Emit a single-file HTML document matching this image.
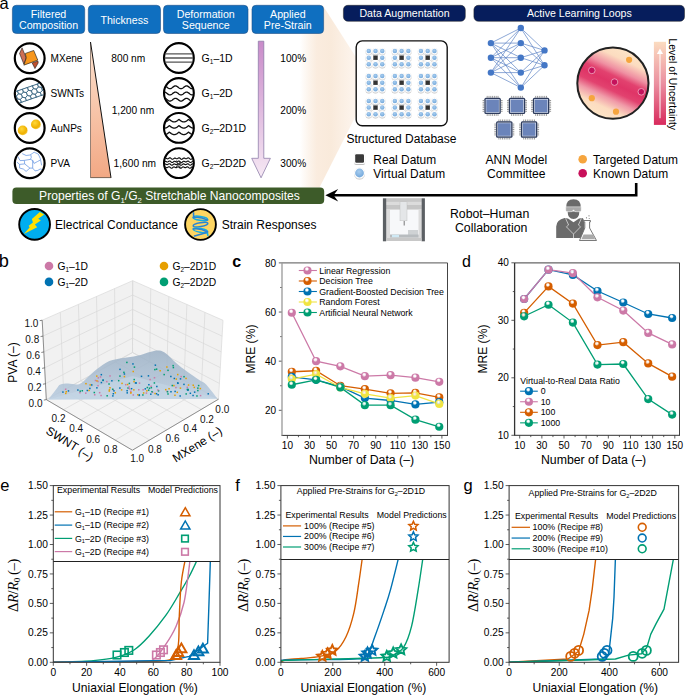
<!DOCTYPE html>
<html><head><meta charset="utf-8"><title>figure</title>
<style>html,body{margin:0;padding:0;background:#fff;width:685px;height:695px;overflow:hidden}svg{display:block}text{font-family:"Liberation Sans",sans-serif}</style></head>
<body><svg width="685" height="695" viewBox="0 0 685 695" font-family='"Liberation Sans", sans-serif'>
<rect width="685" height="695" fill="#fff"/>
<text x="-0.50" y="8.60" font-size="16.5" text-anchor="start" fill="#000" >a</text>
<defs>
<linearGradient id="wedge" x1="300" y1="0" x2="356" y2="0" gradientUnits="userSpaceOnUse">
<stop offset="0" stop-color="#f9e8d7" stop-opacity="0"/><stop offset="0.3" stop-color="#faebdd" stop-opacity="0.95"/><stop offset="0.55" stop-color="#f9eadb"/><stop offset="1" stop-color="#fdf5ee"/></linearGradient>
<linearGradient id="tri" x1="0" y1="42" x2="0" y2="178" gradientUnits="userSpaceOnUse"><stop offset="0" stop-color="#fde2cf"/><stop offset="1" stop-color="#f2a884"/></linearGradient>
<linearGradient id="parr" x1="0" y1="41" x2="0" y2="178" gradientUnits="userSpaceOnUse"><stop offset="0" stop-color="#c98bc9"/><stop offset="1" stop-color="#f6e9f4"/></linearGradient>
<radialGradient id="au" cx="0.4" cy="0.35" r="0.7"><stop offset="0" stop-color="#ffd83a"/><stop offset="0.7" stop-color="#efb000"/><stop offset="1" stop-color="#f6d35a"/></radialGradient>
<linearGradient id="unc" x1="0.71" y1="0.05" x2="0.29" y2="0.95"><stop offset="0" stop-color="#fde4c6"/><stop offset="0.14" stop-color="#fcdcc0"/><stop offset="0.3" stop-color="#ef90a2"/><stop offset="0.4" stop-color="#e2426f"/><stop offset="0.5" stop-color="#df3567"/><stop offset="0.6" stop-color="#e2426f"/><stop offset="0.72" stop-color="#f09aa8"/><stop offset="0.86" stop-color="#fcdcc0"/><stop offset="1" stop-color="#fde4c6"/></linearGradient>
<linearGradient id="ubar" x1="0" y1="41.8" x2="0" y2="125" gradientUnits="userSpaceOnUse"><stop offset="0" stop-color="#fbdcc0"/><stop offset="0.5" stop-color="#eb90a0"/><stop offset="1" stop-color="#d82a5c"/></linearGradient>
<radialGradient id="vdot" cx="0.4" cy="0.35" r="0.65"><stop offset="0" stop-color="#d8ecfa"/><stop offset="1" stop-color="#7fb3e0"/></radialGradient>
</defs>
<polygon points="296,5.8 323,5.8 356.2,57.5 356.2,115 319.5,187.4 296,187.4" fill="url(#wedge)"/>
<rect x="12.4" y="5.3" width="72.3" height="28.2" rx="4" fill="#0f6fc0" stroke="#1c4f86" stroke-width="0.6"/>
<text x="48.55" y="17.60" font-size="10.65" text-anchor="middle" fill="#fff" >Filtered</text>
<text x="48.55" y="29.20" font-size="10.65" text-anchor="middle" fill="#fff" >Composition</text>
<rect x="88.3" y="5.3" width="72.2" height="28.2" rx="4" fill="#0f6fc0" stroke="#1c4f86" stroke-width="0.6"/>
<text x="124.40" y="23.70" font-size="10.65" text-anchor="middle" fill="#fff" >Thickness</text>
<rect x="163.5" y="5.3" width="84.5" height="28.2" rx="4" fill="#0f6fc0" stroke="#1c4f86" stroke-width="0.6"/>
<text x="205.75" y="17.60" font-size="10.65" text-anchor="middle" fill="#fff" >Deformation</text>
<text x="205.75" y="29.20" font-size="10.65" text-anchor="middle" fill="#fff" >Sequence</text>
<rect x="252" y="5.3" width="71.6" height="28.2" rx="4" fill="#0f6fc0" stroke="#1c4f86" stroke-width="0.6"/>
<text x="287.80" y="17.60" font-size="10.65" text-anchor="middle" fill="#fff" >Applied</text>
<text x="287.80" y="29.20" font-size="10.65" text-anchor="middle" fill="#fff" >Pre-Strain</text>
<rect x="343.4" y="5.3" width="121.9" height="16" rx="4.5" fill="#061d5c" stroke="#222" stroke-width="0.5"/>
<text x="404.50" y="17.40" font-size="10.6" text-anchor="middle" fill="#fff" >Data Augmentation</text>
<rect x="473.9" y="5.3" width="210.6" height="16" rx="4.5" fill="#061d5c" stroke="#222" stroke-width="0.5"/>
<text x="579.40" y="17.40" font-size="10.6" text-anchor="middle" fill="#fff" >Active Learning Loops</text>
<circle cx="29.7" cy="58.2" r="14.9" fill="#fff" stroke="#000" stroke-width="2.2"/>
<circle cx="29.7" cy="93.5" r="14.9" fill="#fff" stroke="#000" stroke-width="2.2"/>
<circle cx="29.7" cy="128.0" r="14.9" fill="#fff" stroke="#000" stroke-width="2.2"/>
<circle cx="29.7" cy="163.3" r="14.9" fill="#fff" stroke="#000" stroke-width="2.2"/>
<polygon points="22.05,47.83 19.55,53.48 23.86,64.16 26.28,57.9" fill="#cd6f55" stroke="#111" stroke-width="0.55" stroke-linejoin="round"/>
<polygon points="32.13,62.95 37.98,60.94 38.18,62.95 34.95,68.6" fill="#c0502e" stroke="#111" stroke-width="0.55" stroke-linejoin="round"/>
<polygon points="25.27,53.48 33.74,50.45 37.77,60.13 23.86,65.17 26.28,57.9" fill="#f7961c" stroke="#111" stroke-width="0.6" stroke-linejoin="round"/>
<clipPath id="swc"><circle cx="29.7" cy="93.5" r="14.2"/></clipPath>
<g clip-path="url(#swc)"><g transform="translate(29.4,93.2) rotate(-19)"><clipPath id="tube"><rect x="-20" y="-6.3" width="40" height="12.6"/></clipPath><g clip-path="url(#tube)"><path d="M-23.77,-7.62 L-26.41,-6.10 L-29.06,-7.62 L-29.06,-10.67 L-26.41,-12.20 L-23.77,-10.68Z M-18.49,-7.62 L-21.13,-6.10 L-23.77,-7.62 L-23.77,-10.67 L-21.13,-12.20 L-18.49,-10.68Z M-13.21,-7.62 L-15.85,-6.10 L-18.49,-7.62 L-18.49,-10.67 L-15.85,-12.20 L-13.21,-10.68Z M-7.92,-7.62 L-10.57,-6.10 L-13.21,-7.62 L-13.21,-10.67 L-10.57,-12.20 L-7.92,-10.68Z M-2.64,-7.62 L-5.28,-6.10 L-7.92,-7.62 L-7.92,-10.67 L-5.28,-12.20 L-2.64,-10.68Z M2.64,-7.62 L0.00,-6.10 L-2.64,-7.62 L-2.64,-10.67 L-0.00,-12.20 L2.64,-10.68Z M7.92,-7.62 L5.28,-6.10 L2.64,-7.62 L2.64,-10.67 L5.28,-12.20 L7.92,-10.68Z M13.21,-7.62 L10.57,-6.10 L7.92,-7.62 L7.92,-10.67 L10.57,-12.20 L13.21,-10.68Z M18.49,-7.62 L15.85,-6.10 L13.21,-7.62 L13.21,-10.67 L15.85,-12.20 L18.49,-10.68Z M23.77,-7.62 L21.13,-6.10 L18.49,-7.62 L18.49,-10.67 L21.13,-12.20 L23.77,-10.68Z M29.06,-7.62 L26.41,-6.10 L23.77,-7.62 L23.77,-10.67 L26.41,-12.20 L29.06,-10.68Z M-21.13,-3.05 L-23.77,-1.52 L-26.41,-3.05 L-26.41,-6.10 L-23.77,-7.62 L-21.13,-6.10Z M-15.85,-3.05 L-18.49,-1.52 L-21.13,-3.05 L-21.13,-6.10 L-18.49,-7.62 L-15.85,-6.10Z M-10.57,-3.05 L-13.21,-1.52 L-15.85,-3.05 L-15.85,-6.10 L-13.21,-7.62 L-10.57,-6.10Z M-5.28,-3.05 L-7.92,-1.52 L-10.57,-3.05 L-10.57,-6.10 L-7.92,-7.62 L-5.28,-6.10Z M0.00,-3.05 L-2.64,-1.52 L-5.28,-3.05 L-5.28,-6.10 L-2.64,-7.62 L-0.00,-6.10Z M5.28,-3.05 L2.64,-1.52 L0.00,-3.05 L-0.00,-6.10 L2.64,-7.62 L5.28,-6.10Z M10.57,-3.05 L7.92,-1.52 L5.28,-3.05 L5.28,-6.10 L7.92,-7.62 L10.57,-6.10Z M15.85,-3.05 L13.21,-1.52 L10.57,-3.05 L10.57,-6.10 L13.21,-7.62 L15.85,-6.10Z M21.13,-3.05 L18.49,-1.52 L15.85,-3.05 L15.85,-6.10 L18.49,-7.62 L21.13,-6.10Z M26.41,-3.05 L23.77,-1.52 L21.13,-3.05 L21.13,-6.10 L23.77,-7.62 L26.41,-6.10Z M31.70,-3.05 L29.06,-1.52 L26.41,-3.05 L26.41,-6.10 L29.06,-7.62 L31.70,-6.10Z M-23.77,1.52 L-26.41,3.05 L-29.06,1.53 L-29.06,-1.52 L-26.41,-3.05 L-23.77,-1.53Z M-18.49,1.52 L-21.13,3.05 L-23.77,1.53 L-23.77,-1.52 L-21.13,-3.05 L-18.49,-1.53Z M-13.21,1.52 L-15.85,3.05 L-18.49,1.53 L-18.49,-1.52 L-15.85,-3.05 L-13.21,-1.53Z M-7.92,1.52 L-10.57,3.05 L-13.21,1.53 L-13.21,-1.52 L-10.57,-3.05 L-7.92,-1.53Z M-2.64,1.52 L-5.28,3.05 L-7.92,1.53 L-7.92,-1.52 L-5.28,-3.05 L-2.64,-1.53Z M2.64,1.52 L0.00,3.05 L-2.64,1.53 L-2.64,-1.52 L-0.00,-3.05 L2.64,-1.53Z M7.92,1.52 L5.28,3.05 L2.64,1.53 L2.64,-1.52 L5.28,-3.05 L7.92,-1.53Z M13.21,1.52 L10.57,3.05 L7.92,1.53 L7.92,-1.52 L10.57,-3.05 L13.21,-1.53Z M18.49,1.52 L15.85,3.05 L13.21,1.53 L13.21,-1.52 L15.85,-3.05 L18.49,-1.53Z M23.77,1.52 L21.13,3.05 L18.49,1.53 L18.49,-1.52 L21.13,-3.05 L23.77,-1.53Z M29.06,1.52 L26.41,3.05 L23.77,1.53 L23.77,-1.52 L26.41,-3.05 L29.06,-1.53Z M-21.13,6.10 L-23.77,7.62 L-26.41,6.10 L-26.41,3.05 L-23.77,1.52 L-21.13,3.05Z M-15.85,6.10 L-18.49,7.62 L-21.13,6.10 L-21.13,3.05 L-18.49,1.52 L-15.85,3.05Z M-10.57,6.10 L-13.21,7.62 L-15.85,6.10 L-15.85,3.05 L-13.21,1.52 L-10.57,3.05Z M-5.28,6.10 L-7.92,7.62 L-10.57,6.10 L-10.57,3.05 L-7.92,1.52 L-5.28,3.05Z M0.00,6.10 L-2.64,7.62 L-5.28,6.10 L-5.28,3.05 L-2.64,1.52 L-0.00,3.05Z M5.28,6.10 L2.64,7.62 L0.00,6.10 L-0.00,3.05 L2.64,1.52 L5.28,3.05Z M10.57,6.10 L7.92,7.62 L5.28,6.10 L5.28,3.05 L7.92,1.52 L10.57,3.05Z M15.85,6.10 L13.21,7.62 L10.57,6.10 L10.57,3.05 L13.21,1.52 L15.85,3.05Z M21.13,6.10 L18.49,7.62 L15.85,6.10 L15.85,3.05 L18.49,1.52 L21.13,3.05Z M26.41,6.10 L23.77,7.62 L21.13,6.10 L21.13,3.05 L23.77,1.52 L26.41,3.05Z M31.70,6.10 L29.06,7.62 L26.41,6.10 L26.41,3.05 L29.06,1.52 L31.70,3.05Z M-23.77,10.67 L-26.41,12.20 L-29.06,10.67 L-29.06,7.62 L-26.41,6.10 L-23.77,7.62Z M-18.49,10.67 L-21.13,12.20 L-23.77,10.67 L-23.77,7.62 L-21.13,6.10 L-18.49,7.62Z M-13.21,10.67 L-15.85,12.20 L-18.49,10.67 L-18.49,7.62 L-15.85,6.10 L-13.21,7.62Z M-7.92,10.67 L-10.57,12.20 L-13.21,10.67 L-13.21,7.62 L-10.57,6.10 L-7.92,7.62Z M-2.64,10.67 L-5.28,12.20 L-7.92,10.67 L-7.92,7.62 L-5.28,6.10 L-2.64,7.62Z M2.64,10.67 L0.00,12.20 L-2.64,10.67 L-2.64,7.62 L-0.00,6.10 L2.64,7.62Z M7.92,10.67 L5.28,12.20 L2.64,10.67 L2.64,7.62 L5.28,6.10 L7.92,7.62Z M13.21,10.67 L10.57,12.20 L7.92,10.67 L7.92,7.62 L10.57,6.10 L13.21,7.62Z M18.49,10.67 L15.85,12.20 L13.21,10.67 L13.21,7.62 L15.85,6.10 L18.49,7.62Z M23.77,10.67 L21.13,12.20 L18.49,10.67 L18.49,7.62 L21.13,6.10 L23.77,7.62Z M29.06,10.67 L26.41,12.20 L23.77,10.67 L23.77,7.62 L26.41,6.10 L29.06,7.62Z" fill="none" stroke="#3f6a85" stroke-width="0.7"/></g><line x1="-20" y1="-6.0" x2="20" y2="-6.0" stroke="#3f6a85" stroke-width="1"/><line x1="-20" y1="6.0" x2="20" y2="6.0" stroke="#3f6a85" stroke-width="1"/></g></g>
<circle cx="22.7" cy="130.4" r="4.9" fill="url(#au)"/><circle cx="35.9" cy="124.4" r="4.9" fill="url(#au)"/>
<path d="M22.2,153.6 L26.1,155.5 L29.9,155 L32.2,153.6 L34.1,152.2 L38.3,154.1 L40.2,158.3 L41.1,162.5 L41.6,165.3 M20.1,160.6 L24.3,160.4 L30.4,159.4 L32.7,160.4 L34.1,163.4 L37.4,161.6 L40.2,160.1 M24.3,160.4 L24.7,163.9 L19.6,164.4 L16.8,162 M24.7,163.9 L29.9,168.1 L32.7,168.1 L35,170.9 L37.8,170.4 L40.2,169 L42,169.5 M19.6,164.4 L19.6,168.1 L23.3,169 L26.1,171.4 L29.9,168.1 M32.7,160.4 L32.7,168.1 M17.7,156.4 L20.1,160.6 M30.8,155 L31.3,157.3 L30.4,159.4" fill="none" stroke="#5a8ee0" stroke-width="0.7" stroke-linejoin="round"/>
<text x="50.50" y="61.80" font-size="10.1" text-anchor="start" fill="#000" >MXene</text>
<text x="50.50" y="97.10" font-size="10.1" text-anchor="start" fill="#000" >SWNTs</text>
<text x="50.50" y="131.60" font-size="10.1" text-anchor="start" fill="#000" >AuNPs</text>
<text x="50.50" y="166.90" font-size="10.1" text-anchor="start" fill="#000" >PVA</text>
<polygon points="90.5,42 90.5,177.8 111,177.8" fill="url(#tri)"/>
<line x1="90.5" y1="42" x2="90.5" y2="177.8" stroke="#6a5a50" stroke-width="0.7"/><line x1="90.5" y1="177.6" x2="111" y2="177.6" stroke="#7a6354" stroke-width="1"/><line x1="90.5" y1="42" x2="111" y2="177.8" stroke="#111" stroke-width="1"/>
<text x="111.30" y="61.50" font-size="10.2" text-anchor="start" fill="#000" >800 nm</text>
<text x="111.70" y="113.50" font-size="10.2" text-anchor="start" fill="#000" >1,200 nm</text>
<text x="113.60" y="166.50" font-size="10.2" text-anchor="start" fill="#000" >1,600 nm</text>
<clipPath id="dc0"><circle cx="178.9" cy="58.0" r="14.3"/></clipPath>
<circle cx="178.9" cy="58.0" r="14.9" fill="#fff" stroke="#000" stroke-width="2.1"/>
<clipPath id="dc1"><circle cx="178.9" cy="93.0" r="14.3"/></clipPath>
<circle cx="178.9" cy="93.0" r="14.9" fill="#fff" stroke="#000" stroke-width="2.1"/>
<clipPath id="dc2"><circle cx="178.9" cy="127.9" r="14.3"/></clipPath>
<circle cx="178.9" cy="127.9" r="14.9" fill="#fff" stroke="#000" stroke-width="2.1"/>
<clipPath id="dc3"><circle cx="178.9" cy="163.1" r="14.3"/></clipPath>
<circle cx="178.9" cy="163.1" r="14.9" fill="#fff" stroke="#000" stroke-width="2.1"/>
<line x1="163" y1="53.9" x2="195" y2="53.9" stroke="#555" stroke-width="1.4" clip-path="url(#dc0)"/>
<line x1="163" y1="58.0" x2="195" y2="58.0" stroke="#555" stroke-width="1.4" clip-path="url(#dc0)"/>
<line x1="163" y1="62.1" x2="195" y2="62.1" stroke="#555" stroke-width="1.4" clip-path="url(#dc0)"/>
<polyline points="162.00,86.97 162.40,86.67 162.80,86.41 163.20,86.19 163.60,86.02 164.00,85.93 164.40,85.90 164.80,85.95 165.20,86.06 165.60,86.24 166.00,86.47 166.40,86.74 166.80,87.04 167.20,87.36 167.60,87.67 168.00,87.97 168.40,88.22 168.80,88.44 169.20,88.59 169.60,88.68 170.00,88.70 170.40,88.64 170.80,88.52 171.20,88.34 171.60,88.10 172.00,87.82 172.40,87.52 172.80,87.20 173.20,86.89 173.60,86.60 174.00,86.35 174.40,86.14 174.80,85.99 175.20,85.91 175.60,85.91 176.00,85.97 176.40,86.10 176.80,86.29 177.20,86.53 177.60,86.81 178.00,87.12 178.40,87.44 178.80,87.75 179.20,88.03 179.60,88.28 180.00,88.48 180.40,88.62 180.80,88.69 181.20,88.69 181.60,88.62 182.00,88.48 182.40,88.28 182.80,88.03 183.20,87.75 183.60,87.44 184.00,87.12 184.40,86.81 184.80,86.53 185.20,86.29 185.60,86.10 186.00,85.97 186.40,85.91 186.80,85.91 187.20,85.99 187.60,86.14 188.00,86.35 188.40,86.60 188.80,86.89 189.20,87.20 189.60,87.52 190.00,87.82 190.40,88.10 190.80,88.34 191.20,88.52 191.60,88.64 192.00,88.70 192.40,88.68 192.80,88.59 193.20,88.44 193.60,88.22 194.00,87.97 194.40,87.67 194.80,87.36 195.20,87.04 195.60,86.74" fill="none" stroke="#111" stroke-width="1.35" stroke-linejoin="round" clip-path="url(#dc1)"/>
<polyline points="162.00,93.17 162.40,92.87 162.80,92.61 163.20,92.39 163.60,92.22 164.00,92.13 164.40,92.10 164.80,92.15 165.20,92.26 165.60,92.44 166.00,92.67 166.40,92.94 166.80,93.24 167.20,93.56 167.60,93.87 168.00,94.17 168.40,94.42 168.80,94.64 169.20,94.79 169.60,94.88 170.00,94.90 170.40,94.84 170.80,94.72 171.20,94.54 171.60,94.30 172.00,94.02 172.40,93.72 172.80,93.40 173.20,93.09 173.60,92.80 174.00,92.55 174.40,92.34 174.80,92.19 175.20,92.11 175.60,92.11 176.00,92.17 176.40,92.30 176.80,92.49 177.20,92.73 177.60,93.01 178.00,93.32 178.40,93.64 178.80,93.95 179.20,94.23 179.60,94.48 180.00,94.68 180.40,94.82 180.80,94.89 181.20,94.89 181.60,94.82 182.00,94.68 182.40,94.48 182.80,94.23 183.20,93.95 183.60,93.64 184.00,93.32 184.40,93.01 184.80,92.73 185.20,92.49 185.60,92.30 186.00,92.17 186.40,92.11 186.80,92.11 187.20,92.19 187.60,92.34 188.00,92.55 188.40,92.80 188.80,93.09 189.20,93.40 189.60,93.72 190.00,94.02 190.40,94.30 190.80,94.54 191.20,94.72 191.60,94.84 192.00,94.90 192.40,94.88 192.80,94.79 193.20,94.64 193.60,94.42 194.00,94.17 194.40,93.87 194.80,93.56 195.20,93.24 195.60,92.94" fill="none" stroke="#111" stroke-width="1.35" stroke-linejoin="round" clip-path="url(#dc1)"/>
<polyline points="162.00,99.37 162.40,99.07 162.80,98.81 163.20,98.59 163.60,98.42 164.00,98.33 164.40,98.30 164.80,98.35 165.20,98.46 165.60,98.64 166.00,98.87 166.40,99.14 166.80,99.44 167.20,99.76 167.60,100.07 168.00,100.37 168.40,100.62 168.80,100.84 169.20,100.99 169.60,101.08 170.00,101.10 170.40,101.04 170.80,100.92 171.20,100.74 171.60,100.50 172.00,100.22 172.40,99.92 172.80,99.60 173.20,99.29 173.60,99.00 174.00,98.75 174.40,98.54 174.80,98.39 175.20,98.31 175.60,98.31 176.00,98.37 176.40,98.50 176.80,98.69 177.20,98.93 177.60,99.21 178.00,99.52 178.40,99.84 178.80,100.15 179.20,100.43 179.60,100.68 180.00,100.88 180.40,101.02 180.80,101.09 181.20,101.09 181.60,101.02 182.00,100.88 182.40,100.68 182.80,100.43 183.20,100.15 183.60,99.84 184.00,99.52 184.40,99.21 184.80,98.93 185.20,98.69 185.60,98.50 186.00,98.37 186.40,98.31 186.80,98.31 187.20,98.39 187.60,98.54 188.00,98.75 188.40,99.00 188.80,99.29 189.20,99.60 189.60,99.92 190.00,100.22 190.40,100.50 190.80,100.74 191.20,100.92 191.60,101.04 192.00,101.10 192.40,101.08 192.80,100.99 193.20,100.84 193.60,100.62 194.00,100.37 194.40,100.07 194.80,99.76 195.20,99.44 195.60,99.14" fill="none" stroke="#111" stroke-width="1.35" stroke-linejoin="round" clip-path="url(#dc1)"/>
<polyline points="162.00,121.05 162.30,121.22 162.60,121.38 162.90,121.52 163.20,121.64 163.50,121.74 163.80,121.81 164.10,121.87 164.40,121.89 164.70,121.90 165.00,121.88 165.30,121.83 165.60,121.77 165.90,121.68 166.20,121.57 166.50,121.43 166.80,121.28 167.10,121.11 167.40,120.92 167.70,120.72 168.00,120.51 168.30,120.28 168.60,120.05 168.90,119.81 169.20,119.56 169.50,119.48 169.80,119.73 170.10,119.97 170.40,120.20 170.70,120.43 171.00,120.65 171.30,120.86 171.60,121.05 171.90,121.22 172.20,121.38 172.50,121.52 172.80,121.64 173.10,121.74 173.40,121.81 173.70,121.87 174.00,121.89 174.30,121.90 174.60,121.88 174.90,121.83 175.20,121.77 175.50,121.68 175.80,121.57 176.10,121.43 176.40,121.28 176.70,121.11 177.00,120.92 177.30,120.72 177.60,120.51 177.90,120.28 178.20,120.05 178.50,119.81 178.80,119.56 179.10,119.48 179.40,119.73 179.70,119.97 180.00,120.20 180.30,120.43 180.60,120.65 180.90,120.86 181.20,121.05 181.50,121.22 181.80,121.38 182.10,121.52 182.40,121.64 182.70,121.74 183.00,121.81 183.30,121.87 183.60,121.89 183.90,121.90 184.20,121.88 184.50,121.83 184.80,121.77 185.10,121.68 185.40,121.57 185.70,121.43 186.00,121.28 186.30,121.11 186.60,120.92 186.90,120.72 187.20,120.51 187.50,120.28 187.80,120.05 188.10,119.81 188.40,119.56 188.70,119.48 189.00,119.73 189.30,119.97 189.60,120.20 189.90,120.43 190.20,120.65 190.50,120.86 190.80,121.05 191.10,121.22 191.40,121.38 191.70,121.52 192.00,121.64 192.30,121.74 192.60,121.81 192.90,121.87 193.20,121.89 193.50,121.90 193.80,121.88 194.10,121.83 194.40,121.77 194.70,121.68 195.00,121.57 195.30,121.43 195.60,121.28 195.90,121.11" fill="none" stroke="#111" stroke-width="1.35" stroke-linejoin="round" clip-path="url(#dc2)"/>
<polyline points="162.00,127.25 162.30,127.42 162.60,127.58 162.90,127.72 163.20,127.84 163.50,127.94 163.80,128.01 164.10,128.07 164.40,128.09 164.70,128.10 165.00,128.08 165.30,128.03 165.60,127.97 165.90,127.88 166.20,127.77 166.50,127.63 166.80,127.48 167.10,127.31 167.40,127.12 167.70,126.92 168.00,126.71 168.30,126.48 168.60,126.25 168.90,126.01 169.20,125.76 169.50,125.68 169.80,125.93 170.10,126.17 170.40,126.40 170.70,126.63 171.00,126.85 171.30,127.06 171.60,127.25 171.90,127.42 172.20,127.58 172.50,127.72 172.80,127.84 173.10,127.94 173.40,128.01 173.70,128.07 174.00,128.09 174.30,128.10 174.60,128.08 174.90,128.03 175.20,127.97 175.50,127.88 175.80,127.77 176.10,127.63 176.40,127.48 176.70,127.31 177.00,127.12 177.30,126.92 177.60,126.71 177.90,126.48 178.20,126.25 178.50,126.01 178.80,125.76 179.10,125.68 179.40,125.93 179.70,126.17 180.00,126.40 180.30,126.63 180.60,126.85 180.90,127.06 181.20,127.25 181.50,127.42 181.80,127.58 182.10,127.72 182.40,127.84 182.70,127.94 183.00,128.01 183.30,128.07 183.60,128.09 183.90,128.10 184.20,128.08 184.50,128.03 184.80,127.97 185.10,127.88 185.40,127.77 185.70,127.63 186.00,127.48 186.30,127.31 186.60,127.12 186.90,126.92 187.20,126.71 187.50,126.48 187.80,126.25 188.10,126.01 188.40,125.76 188.70,125.68 189.00,125.93 189.30,126.17 189.60,126.40 189.90,126.63 190.20,126.85 190.50,127.06 190.80,127.25 191.10,127.42 191.40,127.58 191.70,127.72 192.00,127.84 192.30,127.94 192.60,128.01 192.90,128.07 193.20,128.09 193.50,128.10 193.80,128.08 194.10,128.03 194.40,127.97 194.70,127.88 195.00,127.77 195.30,127.63 195.60,127.48 195.90,127.31" fill="none" stroke="#111" stroke-width="1.35" stroke-linejoin="round" clip-path="url(#dc2)"/>
<polyline points="162.00,133.75 162.30,133.92 162.60,134.08 162.90,134.22 163.20,134.34 163.50,134.44 163.80,134.51 164.10,134.57 164.40,134.59 164.70,134.60 165.00,134.58 165.30,134.53 165.60,134.47 165.90,134.38 166.20,134.27 166.50,134.13 166.80,133.98 167.10,133.81 167.40,133.62 167.70,133.42 168.00,133.21 168.30,132.98 168.60,132.75 168.90,132.51 169.20,132.26 169.50,132.18 169.80,132.43 170.10,132.67 170.40,132.90 170.70,133.13 171.00,133.35 171.30,133.56 171.60,133.75 171.90,133.92 172.20,134.08 172.50,134.22 172.80,134.34 173.10,134.44 173.40,134.51 173.70,134.57 174.00,134.59 174.30,134.60 174.60,134.58 174.90,134.53 175.20,134.47 175.50,134.38 175.80,134.27 176.10,134.13 176.40,133.98 176.70,133.81 177.00,133.62 177.30,133.42 177.60,133.21 177.90,132.98 178.20,132.75 178.50,132.51 178.80,132.26 179.10,132.18 179.40,132.43 179.70,132.67 180.00,132.90 180.30,133.13 180.60,133.35 180.90,133.56 181.20,133.75 181.50,133.92 181.80,134.08 182.10,134.22 182.40,134.34 182.70,134.44 183.00,134.51 183.30,134.57 183.60,134.59 183.90,134.60 184.20,134.58 184.50,134.53 184.80,134.47 185.10,134.38 185.40,134.27 185.70,134.13 186.00,133.98 186.30,133.81 186.60,133.62 186.90,133.42 187.20,133.21 187.50,132.98 187.80,132.75 188.10,132.51 188.40,132.26 188.70,132.18 189.00,132.43 189.30,132.67 189.60,132.90 189.90,133.13 190.20,133.35 190.50,133.56 190.80,133.75 191.10,133.92 191.40,134.08 191.70,134.22 192.00,134.34 192.30,134.44 192.60,134.51 192.90,134.57 193.20,134.59 193.50,134.60 193.80,134.58 194.10,134.53 194.40,134.47 194.70,134.38 195.00,134.27 195.30,134.13 195.60,133.98 195.90,133.81" fill="none" stroke="#111" stroke-width="1.35" stroke-linejoin="round" clip-path="url(#dc2)"/>
<polyline points="162.00,158.50 162.30,158.78 162.60,159.02 162.90,159.19 163.20,159.27 163.50,159.25 163.80,159.13 164.10,158.95 164.40,158.72 164.70,158.50 165.00,158.31 165.30,158.18 165.60,158.14 165.90,158.17 166.20,158.27 166.50,158.42 166.80,158.58 167.10,158.72 167.40,158.81 167.70,158.82 168.00,158.76 168.30,158.62 168.60,158.42 168.90,158.20 169.20,158.00 169.50,157.84 169.80,157.76 170.10,157.78 170.40,157.89 170.70,158.10 171.00,158.36 171.30,158.64 171.60,158.91 171.90,159.13 172.20,159.27 172.50,159.30 172.80,159.24 173.10,159.08 173.40,158.87 173.70,158.63 174.00,158.41 174.30,158.23 174.60,158.12 174.90,158.10 175.20,158.15 175.50,158.27 175.80,158.43 176.10,158.59 176.40,158.72 176.70,158.79 177.00,158.78 177.30,158.70 177.60,158.55 177.90,158.35 178.20,158.14 178.50,157.96 178.80,157.83 179.10,157.79 179.40,157.85 179.70,158.00 180.00,158.22 180.30,158.50 180.60,158.78 180.90,159.03 181.20,159.22 181.50,159.31 181.80,159.31 182.10,159.20 182.40,159.02 182.70,158.78 183.00,158.53 183.30,158.31 183.60,158.15 183.90,158.06 184.20,158.06 184.50,158.14 184.80,158.28 185.10,158.44 185.40,158.60 185.70,158.72 186.00,158.77 186.30,158.75 186.60,158.65 186.90,158.49 187.20,158.29 187.50,158.10 187.80,157.94 188.10,157.85 188.40,157.84 188.70,157.93 189.00,158.11 189.30,158.36 189.60,158.64 189.90,158.91 190.20,159.14 190.50,159.29 190.80,159.34 191.10,159.29 191.40,159.14 191.70,158.93 192.00,158.68 192.30,158.43 192.60,158.21 192.90,158.07 193.20,158.01 193.50,158.03 193.80,158.13 194.10,158.29 194.40,158.46 194.70,158.61 195.00,158.72 195.30,158.76 195.60,158.72 195.90,158.61" fill="none" stroke="#111" stroke-width="1.15" stroke-linejoin="round" clip-path="url(#dc3)"/>
<polyline points="162.00,162.00 162.30,162.24 162.60,162.41 162.90,162.49 163.20,162.46 163.50,162.34 163.80,162.15 164.10,161.92 164.40,161.69 164.70,161.50 165.00,161.37 165.30,161.31 165.60,161.34 165.90,161.44 166.20,161.59 166.50,161.75 166.80,161.89 167.10,161.99 167.40,162.01 167.70,161.95 168.00,161.81 168.30,161.62 168.60,161.41 168.90,161.21 169.20,161.06 169.50,160.98 169.80,161.00 170.10,161.12 170.40,161.32 170.70,161.58 171.00,161.86 171.30,162.13 171.60,162.35 171.90,162.48 172.20,162.51 172.50,162.45 172.80,162.29 173.10,162.07 173.40,161.83 173.70,161.60 174.00,161.41 174.30,161.30 174.60,161.27 174.90,161.32 175.20,161.44 175.50,161.60 175.80,161.76 176.10,161.89 176.40,161.97 176.70,161.97 177.00,161.90 177.30,161.75 177.60,161.56 177.90,161.36 178.20,161.18 178.50,161.06 178.80,161.02 179.10,161.07 179.40,161.22 179.70,161.45 180.00,161.72 180.30,162.00 180.60,162.25 180.90,162.43 181.20,162.52 181.50,162.51 181.80,162.41 182.10,162.22 182.40,161.98 182.70,161.72 183.00,161.50 183.30,161.33 183.60,161.24 183.90,161.23 184.20,161.31 184.50,161.45 184.80,161.61 185.10,161.77 185.40,161.90 185.70,161.96 186.00,161.94 186.30,161.85 186.60,161.70 186.90,161.51 187.20,161.32 187.50,161.16 187.80,161.07 188.10,161.07 188.40,161.16 188.70,161.34 189.00,161.58 189.30,161.85 189.60,162.12 189.90,162.35 190.20,162.49 190.50,162.54 190.80,162.49 191.10,162.34 191.40,162.12 191.70,161.87 192.00,161.61 192.30,161.39 192.60,161.24 192.90,161.18 193.20,161.20 193.50,161.30 193.80,161.46 194.10,161.63 194.40,161.79 194.70,161.91 195.00,161.95 195.30,161.92 195.60,161.82 195.90,161.66" fill="none" stroke="#111" stroke-width="1.15" stroke-linejoin="round" clip-path="url(#dc3)"/>
<polyline points="162.00,164.96 162.30,165.13 162.60,165.20 162.90,165.18 163.20,165.05 163.50,164.86 163.80,164.62 164.10,164.39 164.40,164.18 164.70,164.05 165.00,163.99 165.30,164.01 165.60,164.11 165.90,164.26 166.20,164.42 166.50,164.57 166.80,164.66 167.10,164.69 167.40,164.64 167.70,164.51 168.00,164.33 168.30,164.12 168.60,163.93 168.90,163.78 169.20,163.71 169.50,163.72 169.80,163.84 170.10,164.04 170.40,164.30 170.70,164.58 171.00,164.85 171.30,165.06 171.60,165.19 171.90,165.22 172.20,165.15 172.50,164.99 172.80,164.77 173.10,164.52 173.40,164.29 173.70,164.09 174.00,163.98 174.30,163.94 174.60,163.99 174.90,164.11 175.20,164.27 175.50,164.43 175.80,164.57 176.10,164.66 176.40,164.66 176.70,164.59 177.00,164.46 177.30,164.27 177.60,164.08 177.90,163.90 178.20,163.78 178.50,163.74 178.80,163.80 179.10,163.95 179.40,164.17 179.70,164.44 180.00,164.72 180.30,164.96 180.60,165.14 180.90,165.23 181.20,165.22 181.50,165.11 181.80,164.91 182.10,164.67 182.40,164.41 182.70,164.18 183.00,164.00 183.30,163.91 183.60,163.90 183.90,163.98 184.20,164.12 184.50,164.28 184.80,164.45 185.10,164.58 185.40,164.65 185.70,164.64 186.00,164.56 186.30,164.41 186.60,164.23 186.90,164.04 187.20,163.89 187.50,163.80 187.80,163.80 188.10,163.88 188.40,164.06 188.70,164.30 189.00,164.57 189.30,164.84 189.60,165.06 189.90,165.20 190.20,165.25 190.50,165.19 190.80,165.04 191.10,164.81 191.40,164.55 191.70,164.29 192.00,164.07 192.30,163.92 192.60,163.85 192.90,163.87 193.20,163.97 193.50,164.13 193.80,164.31 194.10,164.47 194.40,164.60 194.70,164.65 195.00,164.62 195.30,164.53 195.60,164.37 195.90,164.19" fill="none" stroke="#111" stroke-width="1.15" stroke-linejoin="round" clip-path="url(#dc3)"/>
<polyline points="162.00,168.15 162.30,168.22 162.60,168.19 162.90,168.06 163.20,167.86 163.50,167.62 163.80,167.38 164.10,167.17 164.40,167.02 164.70,166.96 165.00,166.98 165.30,167.08 165.60,167.23 165.90,167.39 166.20,167.54 166.50,167.64 166.80,167.68 167.10,167.63 167.40,167.51 167.70,167.34 168.00,167.14 168.30,166.95 168.60,166.80 168.90,166.73 169.20,166.75 169.50,166.86 169.80,167.06 170.10,167.32 170.40,167.60 170.70,167.87 171.00,168.08 171.30,168.21 171.60,168.23 171.90,168.16 172.20,167.99 172.50,167.77 172.80,167.51 173.10,167.27 173.40,167.07 173.70,166.95 174.00,166.91 174.30,166.96 174.60,167.08 174.90,167.24 175.20,167.41 175.50,167.55 175.80,167.64 176.10,167.66 176.40,167.60 176.70,167.47 177.00,167.29 177.30,167.10 177.60,166.92 177.90,166.81 178.20,166.77 178.50,166.82 178.80,166.97 179.10,167.19 179.40,167.46 179.70,167.73 180.00,167.98 180.30,168.15 180.60,168.24 180.90,168.22 181.20,168.11 181.50,167.91 181.80,167.66 182.10,167.40 182.40,167.16 182.70,166.98 183.00,166.88 183.30,166.87 183.60,166.95 183.90,167.09 184.20,167.26 184.50,167.43 184.80,167.57 185.10,167.64 185.40,167.64 185.70,167.57 186.00,167.43 186.30,167.25 186.60,167.07 186.90,166.92 187.20,166.83 187.50,166.82 187.80,166.91 188.10,167.08 188.40,167.32 188.70,167.59 189.00,167.85 189.30,168.07 189.60,168.21 189.90,168.25 190.20,168.19 190.50,168.03 190.80,167.80 191.10,167.54 191.40,167.27 191.70,167.05 192.00,166.89 192.30,166.82 192.60,166.84 192.90,166.95 193.20,167.10 193.50,167.29 193.80,167.46 194.10,167.59 194.40,167.65 194.70,167.63 195.00,167.54 195.30,167.39 195.60,167.22 195.90,167.05" fill="none" stroke="#111" stroke-width="1.15" stroke-linejoin="round" clip-path="url(#dc3)"/>
<path d="M176.5,160.5 L177.8,164.8 L176.2,167 M180.3,161.5 L178.4,165.2 L181.2,167.8 M182,162.5 L179.6,164.2" fill="none" stroke="#222" stroke-width="0.8"/>
<text x="201.60" y="61.90" font-size="10.5" text-anchor="start" fill="#000" >G<tspan font-size="6.51" dy="2.31">1</tspan><tspan dy="-2.31">–1D</tspan></text>
<text x="201.60" y="96.90" font-size="10.5" text-anchor="start" fill="#000" >G<tspan font-size="6.51" dy="2.31">1</tspan><tspan dy="-2.31">–2D</tspan></text>
<text x="201.60" y="131.80" font-size="10.5" text-anchor="start" fill="#000" >G<tspan font-size="6.51" dy="2.31">2</tspan><tspan dy="-2.31">–2D1D</tspan></text>
<text x="201.60" y="167.00" font-size="10.5" text-anchor="start" fill="#000" >G<tspan font-size="6.51" dy="2.31">2</tspan><tspan dy="-2.31">–2D2D</tspan></text>
<path d="M258.3,41.2 L263.8,41.2 L263.8,158.3 L270.4,158.3 L261.05,177.8 L251.7,158.3 L258.3,158.3 Z" fill="url(#parr)" stroke="#8a7aa6" stroke-width="0.75"/>
<text x="280.30" y="61.70" font-size="10.1" text-anchor="start" fill="#000" >100%</text>
<text x="280.30" y="113.70" font-size="10.1" text-anchor="start" fill="#000" >200%</text>
<text x="280.30" y="166.50" font-size="10.1" text-anchor="start" fill="#000" >300%</text>
<defs><filter id="sh" x="-50%" y="-50%" width="200%" height="200%"><feDropShadow dx="0" dy="0.5" stdDeviation="0.7" flood-color="#000" flood-opacity="0.5"/></filter><radialGradient id="bdot" cx="0.45" cy="0.35" r="0.7"><stop offset="0" stop-color="#a8cdef"/><stop offset="1" stop-color="#6fa5d9"/></radialGradient></defs>
<rect x="356.2" y="40.9" width="91" height="84.8" rx="6" fill="#fff" stroke="#111" stroke-width="1.4"/>
<path d="M368.7,50.900000000000006 L382.3,64.5 M382.3,50.900000000000006 L368.7,64.5" stroke="#cfcfcf" stroke-width="0.6"/>
<g filter="url(#sh)"><circle cx="368.75" cy="51.10" r="3.2" fill="#fff"/><circle cx="368.75" cy="57.70" r="3.2" fill="#fff"/><circle cx="368.75" cy="64.30" r="3.2" fill="#fff"/><circle cx="375.50" cy="51.10" r="3.2" fill="#fff"/><circle cx="375.50" cy="64.30" r="3.2" fill="#fff"/><circle cx="382.25" cy="51.10" r="3.2" fill="#fff"/><circle cx="382.25" cy="57.70" r="3.2" fill="#fff"/><circle cx="382.25" cy="64.30" r="3.2" fill="#fff"/></g>
<circle cx="368.75" cy="51.10" r="2.25" fill="url(#bdot)"/>
<circle cx="368.75" cy="57.70" r="2.25" fill="url(#bdot)"/>
<circle cx="368.75" cy="64.30" r="2.25" fill="url(#bdot)"/>
<circle cx="375.50" cy="51.10" r="2.25" fill="url(#bdot)"/>
<circle cx="375.50" cy="64.30" r="2.25" fill="url(#bdot)"/>
<circle cx="382.25" cy="51.10" r="2.25" fill="url(#bdot)"/>
<circle cx="382.25" cy="57.70" r="2.25" fill="url(#bdot)"/>
<circle cx="382.25" cy="64.30" r="2.25" fill="url(#bdot)"/>
<rect x="373.30" y="55.50" width="4.4" height="4.4" fill="#333"/>
<path d="M368.7,75.9 L382.3,89.5 M382.3,75.9 L368.7,89.5" stroke="#cfcfcf" stroke-width="0.6"/>
<g filter="url(#sh)"><circle cx="368.75" cy="76.10" r="3.2" fill="#fff"/><circle cx="368.75" cy="82.70" r="3.2" fill="#fff"/><circle cx="368.75" cy="89.30" r="3.2" fill="#fff"/><circle cx="375.50" cy="76.10" r="3.2" fill="#fff"/><circle cx="375.50" cy="89.30" r="3.2" fill="#fff"/><circle cx="382.25" cy="76.10" r="3.2" fill="#fff"/><circle cx="382.25" cy="82.70" r="3.2" fill="#fff"/><circle cx="382.25" cy="89.30" r="3.2" fill="#fff"/></g>
<circle cx="368.75" cy="76.10" r="2.25" fill="url(#bdot)"/>
<circle cx="368.75" cy="82.70" r="2.25" fill="url(#bdot)"/>
<circle cx="368.75" cy="89.30" r="2.25" fill="url(#bdot)"/>
<circle cx="375.50" cy="76.10" r="2.25" fill="url(#bdot)"/>
<circle cx="375.50" cy="89.30" r="2.25" fill="url(#bdot)"/>
<circle cx="382.25" cy="76.10" r="2.25" fill="url(#bdot)"/>
<circle cx="382.25" cy="82.70" r="2.25" fill="url(#bdot)"/>
<circle cx="382.25" cy="89.30" r="2.25" fill="url(#bdot)"/>
<rect x="373.30" y="80.50" width="4.4" height="4.4" fill="#333"/>
<path d="M368.7,100.8 L382.3,114.39999999999999 M382.3,100.8 L368.7,114.39999999999999" stroke="#cfcfcf" stroke-width="0.6"/>
<g filter="url(#sh)"><circle cx="368.75" cy="101.00" r="3.2" fill="#fff"/><circle cx="368.75" cy="107.60" r="3.2" fill="#fff"/><circle cx="368.75" cy="114.20" r="3.2" fill="#fff"/><circle cx="375.50" cy="101.00" r="3.2" fill="#fff"/><circle cx="375.50" cy="114.20" r="3.2" fill="#fff"/><circle cx="382.25" cy="101.00" r="3.2" fill="#fff"/><circle cx="382.25" cy="107.60" r="3.2" fill="#fff"/><circle cx="382.25" cy="114.20" r="3.2" fill="#fff"/></g>
<circle cx="368.75" cy="101.00" r="2.25" fill="url(#bdot)"/>
<circle cx="368.75" cy="107.60" r="2.25" fill="url(#bdot)"/>
<circle cx="368.75" cy="114.20" r="2.25" fill="url(#bdot)"/>
<circle cx="375.50" cy="101.00" r="2.25" fill="url(#bdot)"/>
<circle cx="375.50" cy="114.20" r="2.25" fill="url(#bdot)"/>
<circle cx="382.25" cy="101.00" r="2.25" fill="url(#bdot)"/>
<circle cx="382.25" cy="107.60" r="2.25" fill="url(#bdot)"/>
<circle cx="382.25" cy="114.20" r="2.25" fill="url(#bdot)"/>
<rect x="373.30" y="105.40" width="4.4" height="4.4" fill="#333"/>
<path d="M394.8,50.900000000000006 L408.40000000000003,64.5 M408.40000000000003,50.900000000000006 L394.8,64.5" stroke="#cfcfcf" stroke-width="0.6"/>
<g filter="url(#sh)"><circle cx="394.85" cy="51.10" r="3.2" fill="#fff"/><circle cx="394.85" cy="57.70" r="3.2" fill="#fff"/><circle cx="394.85" cy="64.30" r="3.2" fill="#fff"/><circle cx="401.60" cy="51.10" r="3.2" fill="#fff"/><circle cx="401.60" cy="64.30" r="3.2" fill="#fff"/><circle cx="408.35" cy="51.10" r="3.2" fill="#fff"/><circle cx="408.35" cy="57.70" r="3.2" fill="#fff"/><circle cx="408.35" cy="64.30" r="3.2" fill="#fff"/></g>
<circle cx="394.85" cy="51.10" r="2.25" fill="url(#bdot)"/>
<circle cx="394.85" cy="57.70" r="2.25" fill="url(#bdot)"/>
<circle cx="394.85" cy="64.30" r="2.25" fill="url(#bdot)"/>
<circle cx="401.60" cy="51.10" r="2.25" fill="url(#bdot)"/>
<circle cx="401.60" cy="64.30" r="2.25" fill="url(#bdot)"/>
<circle cx="408.35" cy="51.10" r="2.25" fill="url(#bdot)"/>
<circle cx="408.35" cy="57.70" r="2.25" fill="url(#bdot)"/>
<circle cx="408.35" cy="64.30" r="2.25" fill="url(#bdot)"/>
<rect x="399.40" y="55.50" width="4.4" height="4.4" fill="#333"/>
<path d="M394.8,75.9 L408.40000000000003,89.5 M408.40000000000003,75.9 L394.8,89.5" stroke="#cfcfcf" stroke-width="0.6"/>
<g filter="url(#sh)"><circle cx="394.85" cy="76.10" r="3.2" fill="#fff"/><circle cx="394.85" cy="82.70" r="3.2" fill="#fff"/><circle cx="394.85" cy="89.30" r="3.2" fill="#fff"/><circle cx="401.60" cy="76.10" r="3.2" fill="#fff"/><circle cx="401.60" cy="89.30" r="3.2" fill="#fff"/><circle cx="408.35" cy="76.10" r="3.2" fill="#fff"/><circle cx="408.35" cy="82.70" r="3.2" fill="#fff"/><circle cx="408.35" cy="89.30" r="3.2" fill="#fff"/></g>
<circle cx="394.85" cy="76.10" r="2.25" fill="url(#bdot)"/>
<circle cx="394.85" cy="82.70" r="2.25" fill="url(#bdot)"/>
<circle cx="394.85" cy="89.30" r="2.25" fill="url(#bdot)"/>
<circle cx="401.60" cy="76.10" r="2.25" fill="url(#bdot)"/>
<circle cx="401.60" cy="89.30" r="2.25" fill="url(#bdot)"/>
<circle cx="408.35" cy="76.10" r="2.25" fill="url(#bdot)"/>
<circle cx="408.35" cy="82.70" r="2.25" fill="url(#bdot)"/>
<circle cx="408.35" cy="89.30" r="2.25" fill="url(#bdot)"/>
<rect x="399.40" y="80.50" width="4.4" height="4.4" fill="#333"/>
<path d="M394.8,100.8 L408.40000000000003,114.39999999999999 M408.40000000000003,100.8 L394.8,114.39999999999999" stroke="#cfcfcf" stroke-width="0.6"/>
<g filter="url(#sh)"><circle cx="394.85" cy="101.00" r="3.2" fill="#fff"/><circle cx="394.85" cy="107.60" r="3.2" fill="#fff"/><circle cx="394.85" cy="114.20" r="3.2" fill="#fff"/><circle cx="401.60" cy="101.00" r="3.2" fill="#fff"/><circle cx="401.60" cy="114.20" r="3.2" fill="#fff"/><circle cx="408.35" cy="101.00" r="3.2" fill="#fff"/><circle cx="408.35" cy="107.60" r="3.2" fill="#fff"/><circle cx="408.35" cy="114.20" r="3.2" fill="#fff"/></g>
<circle cx="394.85" cy="101.00" r="2.25" fill="url(#bdot)"/>
<circle cx="394.85" cy="107.60" r="2.25" fill="url(#bdot)"/>
<circle cx="394.85" cy="114.20" r="2.25" fill="url(#bdot)"/>
<circle cx="401.60" cy="101.00" r="2.25" fill="url(#bdot)"/>
<circle cx="401.60" cy="114.20" r="2.25" fill="url(#bdot)"/>
<circle cx="408.35" cy="101.00" r="2.25" fill="url(#bdot)"/>
<circle cx="408.35" cy="107.60" r="2.25" fill="url(#bdot)"/>
<circle cx="408.35" cy="114.20" r="2.25" fill="url(#bdot)"/>
<rect x="399.40" y="105.40" width="4.4" height="4.4" fill="#333"/>
<path d="M420.9,50.900000000000006 L434.5,64.5 M434.5,50.900000000000006 L420.9,64.5" stroke="#cfcfcf" stroke-width="0.6"/>
<g filter="url(#sh)"><circle cx="420.95" cy="51.10" r="3.2" fill="#fff"/><circle cx="420.95" cy="57.70" r="3.2" fill="#fff"/><circle cx="420.95" cy="64.30" r="3.2" fill="#fff"/><circle cx="427.70" cy="51.10" r="3.2" fill="#fff"/><circle cx="427.70" cy="64.30" r="3.2" fill="#fff"/><circle cx="434.45" cy="51.10" r="3.2" fill="#fff"/><circle cx="434.45" cy="57.70" r="3.2" fill="#fff"/><circle cx="434.45" cy="64.30" r="3.2" fill="#fff"/></g>
<circle cx="420.95" cy="51.10" r="2.25" fill="url(#bdot)"/>
<circle cx="420.95" cy="57.70" r="2.25" fill="url(#bdot)"/>
<circle cx="420.95" cy="64.30" r="2.25" fill="url(#bdot)"/>
<circle cx="427.70" cy="51.10" r="2.25" fill="url(#bdot)"/>
<circle cx="427.70" cy="64.30" r="2.25" fill="url(#bdot)"/>
<circle cx="434.45" cy="51.10" r="2.25" fill="url(#bdot)"/>
<circle cx="434.45" cy="57.70" r="2.25" fill="url(#bdot)"/>
<circle cx="434.45" cy="64.30" r="2.25" fill="url(#bdot)"/>
<rect x="425.50" y="55.50" width="4.4" height="4.4" fill="#333"/>
<path d="M420.9,75.9 L434.5,89.5 M434.5,75.9 L420.9,89.5" stroke="#cfcfcf" stroke-width="0.6"/>
<g filter="url(#sh)"><circle cx="420.95" cy="76.10" r="3.2" fill="#fff"/><circle cx="420.95" cy="82.70" r="3.2" fill="#fff"/><circle cx="420.95" cy="89.30" r="3.2" fill="#fff"/><circle cx="427.70" cy="76.10" r="3.2" fill="#fff"/><circle cx="427.70" cy="89.30" r="3.2" fill="#fff"/><circle cx="434.45" cy="76.10" r="3.2" fill="#fff"/><circle cx="434.45" cy="82.70" r="3.2" fill="#fff"/><circle cx="434.45" cy="89.30" r="3.2" fill="#fff"/></g>
<circle cx="420.95" cy="76.10" r="2.25" fill="url(#bdot)"/>
<circle cx="420.95" cy="82.70" r="2.25" fill="url(#bdot)"/>
<circle cx="420.95" cy="89.30" r="2.25" fill="url(#bdot)"/>
<circle cx="427.70" cy="76.10" r="2.25" fill="url(#bdot)"/>
<circle cx="427.70" cy="89.30" r="2.25" fill="url(#bdot)"/>
<circle cx="434.45" cy="76.10" r="2.25" fill="url(#bdot)"/>
<circle cx="434.45" cy="82.70" r="2.25" fill="url(#bdot)"/>
<circle cx="434.45" cy="89.30" r="2.25" fill="url(#bdot)"/>
<rect x="425.50" y="80.50" width="4.4" height="4.4" fill="#333"/>
<path d="M420.9,100.8 L434.5,114.39999999999999 M434.5,100.8 L420.9,114.39999999999999" stroke="#cfcfcf" stroke-width="0.6"/>
<g filter="url(#sh)"><circle cx="420.95" cy="101.00" r="3.2" fill="#fff"/><circle cx="420.95" cy="107.60" r="3.2" fill="#fff"/><circle cx="420.95" cy="114.20" r="3.2" fill="#fff"/><circle cx="427.70" cy="101.00" r="3.2" fill="#fff"/><circle cx="427.70" cy="114.20" r="3.2" fill="#fff"/><circle cx="434.45" cy="101.00" r="3.2" fill="#fff"/><circle cx="434.45" cy="107.60" r="3.2" fill="#fff"/><circle cx="434.45" cy="114.20" r="3.2" fill="#fff"/></g>
<circle cx="420.95" cy="101.00" r="2.25" fill="url(#bdot)"/>
<circle cx="420.95" cy="107.60" r="2.25" fill="url(#bdot)"/>
<circle cx="420.95" cy="114.20" r="2.25" fill="url(#bdot)"/>
<circle cx="427.70" cy="101.00" r="2.25" fill="url(#bdot)"/>
<circle cx="427.70" cy="114.20" r="2.25" fill="url(#bdot)"/>
<circle cx="434.45" cy="101.00" r="2.25" fill="url(#bdot)"/>
<circle cx="434.45" cy="107.60" r="2.25" fill="url(#bdot)"/>
<circle cx="434.45" cy="114.20" r="2.25" fill="url(#bdot)"/>
<rect x="425.50" y="105.40" width="4.4" height="4.4" fill="#333"/>
<text x="346.40" y="142.80" font-size="12" text-anchor="start" fill="#000" >Structured Database</text>
<g filter="url(#sh)"><rect x="354.1" y="153.1" width="11" height="10.8" rx="2" fill="#fff"/><circle cx="359.5" cy="173" r="5.5" fill="#fff"/></g>
<rect x="355.2" y="154.2" width="8.8" height="8.6" rx="1.2" fill="#3a3a3a"/>
<circle cx="359.5" cy="173" r="4.4" fill="url(#bdot)"/>
<text x="373.30" y="163.50" font-size="11.9" text-anchor="start" fill="#000" >Real Datum</text>
<text x="373.30" y="178.20" font-size="11.9" text-anchor="start" fill="#000" >Virtual Datum</text>
<path d="M490.9,43.1 L520.8,28 M490.9,43.1 L520.8,43.1 M490.9,43.1 L520.8,57.7 M490.9,43.1 L520.8,72.6 M490.9,43.1 L520.8,87.6 M490.9,57.7 L520.8,28 M490.9,57.7 L520.8,43.1 M490.9,57.7 L520.8,57.7 M490.9,57.7 L520.8,72.6 M490.9,57.7 L520.8,87.6 M490.9,72.6 L520.8,28 M490.9,72.6 L520.8,43.1 M490.9,72.6 L520.8,57.7 M490.9,72.6 L520.8,72.6 M490.9,72.6 L520.8,87.6 M520.8,28 L544.5,50.4 M520.8,28 L544.5,65.3 M520.8,43.1 L544.5,50.4 M520.8,43.1 L544.5,65.3 M520.8,57.7 L544.5,50.4 M520.8,57.7 L544.5,65.3 M520.8,72.6 L544.5,50.4 M520.8,72.6 L544.5,65.3 M520.8,87.6 L544.5,50.4 M520.8,87.6 L544.5,65.3" stroke="#5b82c4" stroke-width="0.7" fill="none"/>
<circle cx="490.9" cy="43.1" r="3.2" fill="#4477c6"/>
<circle cx="490.9" cy="57.7" r="3.2" fill="#4477c6"/>
<circle cx="490.9" cy="72.6" r="3.2" fill="#4477c6"/>
<circle cx="520.8" cy="28" r="3.2" fill="#4477c6"/>
<circle cx="520.8" cy="43.1" r="3.2" fill="#4477c6"/>
<circle cx="520.8" cy="57.7" r="3.2" fill="#4477c6"/>
<circle cx="520.8" cy="72.6" r="3.2" fill="#4477c6"/>
<circle cx="520.8" cy="87.6" r="3.2" fill="#4477c6"/>
<circle cx="544.5" cy="50.4" r="3.2" fill="#4477c6"/>
<circle cx="544.5" cy="65.3" r="3.2" fill="#4477c6"/>
<path d="M487.20000000000005,95.9 L487.20000000000005,97.7 M487.20000000000005,114.10000000000001 L487.20000000000005,115.9 M482.6,100.5 L484.40000000000003,100.5 M500.8,100.5 L502.6,100.5 M489.0,95.9 L489.0,97.7 M489.0,114.10000000000001 L489.0,115.9 M482.6,102.30000000000001 L484.40000000000003,102.30000000000001 M500.8,102.30000000000001 L502.6,102.30000000000001 M490.8,95.9 L490.8,97.7 M490.8,114.10000000000001 L490.8,115.9 M482.6,104.10000000000001 L484.40000000000003,104.10000000000001 M500.8,104.10000000000001 L502.6,104.10000000000001 M492.6,95.9 L492.6,97.7 M492.6,114.10000000000001 L492.6,115.9 M482.6,105.9 L484.40000000000003,105.9 M500.8,105.9 L502.6,105.9 M494.40000000000003,95.9 L494.40000000000003,97.7 M494.40000000000003,114.10000000000001 L494.40000000000003,115.9 M482.6,107.7 L484.40000000000003,107.7 M500.8,107.7 L502.6,107.7 M496.20000000000005,95.9 L496.20000000000005,97.7 M496.20000000000005,114.10000000000001 L496.20000000000005,115.9 M482.6,109.5 L484.40000000000003,109.5 M500.8,109.5 L502.6,109.5 M498.0,95.9 L498.0,97.7 M498.0,114.10000000000001 L498.0,115.9 M482.6,111.30000000000001 L484.40000000000003,111.30000000000001 M500.8,111.30000000000001 L502.6,111.30000000000001" stroke="#444" stroke-width="0.55"/><rect x="484.40000000000003" y="97.7" width="16.4" height="16.4" rx="1.5" fill="#2d3b5c"/><rect x="485.70000000000005" y="99.0" width="13.8" height="13.8" fill="#dfe5f2"/><rect x="486.3" y="99.60000000000001" width="12.6" height="12.6" fill="#6b84ba"/>
<path d="M511.6,95.9 L511.6,97.7 M511.6,114.10000000000001 L511.6,115.9 M507,100.5 L508.8,100.5 M525.2,100.5 L527,100.5 M513.4,95.9 L513.4,97.7 M513.4,114.10000000000001 L513.4,115.9 M507,102.30000000000001 L508.8,102.30000000000001 M525.2,102.30000000000001 L527,102.30000000000001 M515.2,95.9 L515.2,97.7 M515.2,114.10000000000001 L515.2,115.9 M507,104.10000000000001 L508.8,104.10000000000001 M525.2,104.10000000000001 L527,104.10000000000001 M517.0,95.9 L517.0,97.7 M517.0,114.10000000000001 L517.0,115.9 M507,105.9 L508.8,105.9 M525.2,105.9 L527,105.9 M518.8,95.9 L518.8,97.7 M518.8,114.10000000000001 L518.8,115.9 M507,107.7 L508.8,107.7 M525.2,107.7 L527,107.7 M520.6,95.9 L520.6,97.7 M520.6,114.10000000000001 L520.6,115.9 M507,109.5 L508.8,109.5 M525.2,109.5 L527,109.5 M522.4,95.9 L522.4,97.7 M522.4,114.10000000000001 L522.4,115.9 M507,111.30000000000001 L508.8,111.30000000000001 M525.2,111.30000000000001 L527,111.30000000000001" stroke="#444" stroke-width="0.55"/><rect x="508.8" y="97.7" width="16.4" height="16.4" rx="1.5" fill="#2d3b5c"/><rect x="510.1" y="99.0" width="13.8" height="13.8" fill="#dfe5f2"/><rect x="510.7" y="99.60000000000001" width="12.6" height="12.6" fill="#6b84ba"/>
<path d="M535.7,95.9 L535.7,97.7 M535.7,114.10000000000001 L535.7,115.9 M531.1,100.5 L532.9,100.5 M549.3000000000001,100.5 L551.1,100.5 M537.5,95.9 L537.5,97.7 M537.5,114.10000000000001 L537.5,115.9 M531.1,102.30000000000001 L532.9,102.30000000000001 M549.3000000000001,102.30000000000001 L551.1,102.30000000000001 M539.3000000000001,95.9 L539.3000000000001,97.7 M539.3000000000001,114.10000000000001 L539.3000000000001,115.9 M531.1,104.10000000000001 L532.9,104.10000000000001 M549.3000000000001,104.10000000000001 L551.1,104.10000000000001 M541.1,95.9 L541.1,97.7 M541.1,114.10000000000001 L541.1,115.9 M531.1,105.9 L532.9,105.9 M549.3000000000001,105.9 L551.1,105.9 M542.9,95.9 L542.9,97.7 M542.9,114.10000000000001 L542.9,115.9 M531.1,107.7 L532.9,107.7 M549.3000000000001,107.7 L551.1,107.7 M544.7,95.9 L544.7,97.7 M544.7,114.10000000000001 L544.7,115.9 M531.1,109.5 L532.9,109.5 M549.3000000000001,109.5 L551.1,109.5 M546.5,95.9 L546.5,97.7 M546.5,114.10000000000001 L546.5,115.9 M531.1,111.30000000000001 L532.9,111.30000000000001 M549.3000000000001,111.30000000000001 L551.1,111.30000000000001" stroke="#444" stroke-width="0.55"/><rect x="532.9" y="97.7" width="16.4" height="16.4" rx="1.5" fill="#2d3b5c"/><rect x="534.2" y="99.0" width="13.8" height="13.8" fill="#dfe5f2"/><rect x="534.8000000000001" y="99.60000000000001" width="12.6" height="12.6" fill="#6b84ba"/>
<path d="M498.90000000000003,119.5 L498.90000000000003,121.3 M498.90000000000003,137.7 L498.90000000000003,139.5 M494.3,124.1 L496.1,124.1 M512.5,124.1 L514.3,124.1 M500.7,119.5 L500.7,121.3 M500.7,137.7 L500.7,139.5 M494.3,125.9 L496.1,125.9 M512.5,125.9 L514.3,125.9 M502.5,119.5 L502.5,121.3 M502.5,137.7 L502.5,139.5 M494.3,127.7 L496.1,127.7 M512.5,127.7 L514.3,127.7 M504.3,119.5 L504.3,121.3 M504.3,137.7 L504.3,139.5 M494.3,129.5 L496.1,129.5 M512.5,129.5 L514.3,129.5 M506.1,119.5 L506.1,121.3 M506.1,137.7 L506.1,139.5 M494.3,131.3 L496.1,131.3 M512.5,131.3 L514.3,131.3 M507.90000000000003,119.5 L507.90000000000003,121.3 M507.90000000000003,137.7 L507.90000000000003,139.5 M494.3,133.1 L496.1,133.1 M512.5,133.1 L514.3,133.1 M509.7,119.5 L509.7,121.3 M509.7,137.7 L509.7,139.5 M494.3,134.9 L496.1,134.9 M512.5,134.9 L514.3,134.9" stroke="#444" stroke-width="0.55"/><rect x="496.1" y="121.3" width="16.4" height="16.4" rx="1.5" fill="#2d3b5c"/><rect x="497.40000000000003" y="122.6" width="13.8" height="13.8" fill="#dfe5f2"/><rect x="498.0" y="123.2" width="12.6" height="12.6" fill="#6b84ba"/>
<path d="M523.7,119.5 L523.7,121.3 M523.7,137.7 L523.7,139.5 M519.1,124.1 L520.9,124.1 M537.3000000000001,124.1 L539.1,124.1 M525.5,119.5 L525.5,121.3 M525.5,137.7 L525.5,139.5 M519.1,125.9 L520.9,125.9 M537.3000000000001,125.9 L539.1,125.9 M527.3000000000001,119.5 L527.3000000000001,121.3 M527.3000000000001,137.7 L527.3000000000001,139.5 M519.1,127.7 L520.9,127.7 M537.3000000000001,127.7 L539.1,127.7 M529.1,119.5 L529.1,121.3 M529.1,137.7 L529.1,139.5 M519.1,129.5 L520.9,129.5 M537.3000000000001,129.5 L539.1,129.5 M530.9,119.5 L530.9,121.3 M530.9,137.7 L530.9,139.5 M519.1,131.3 L520.9,131.3 M537.3000000000001,131.3 L539.1,131.3 M532.7,119.5 L532.7,121.3 M532.7,137.7 L532.7,139.5 M519.1,133.1 L520.9,133.1 M537.3000000000001,133.1 L539.1,133.1 M534.5,119.5 L534.5,121.3 M534.5,137.7 L534.5,139.5 M519.1,134.9 L520.9,134.9 M537.3000000000001,134.9 L539.1,134.9" stroke="#444" stroke-width="0.55"/><rect x="520.9" y="121.3" width="16.4" height="16.4" rx="1.5" fill="#2d3b5c"/><rect x="522.2" y="122.6" width="13.8" height="13.8" fill="#dfe5f2"/><rect x="522.8000000000001" y="123.2" width="12.6" height="12.6" fill="#6b84ba"/>
<text x="516.30" y="163.80" font-size="12.1" text-anchor="middle" fill="#000" >ANN Model</text>
<text x="516.30" y="177.70" font-size="12.1" text-anchor="middle" fill="#000" >Committee</text>
<circle cx="612.9" cy="83.2" r="35.6" fill="url(#unc)" stroke="#222" stroke-width="2"/>
<circle cx="629.1" cy="59.8" r="3.1" fill="#f6a53e"/>
<circle cx="591.8" cy="98.2" r="3.1" fill="#f6a53e"/>
<circle cx="616" cy="111.7" r="3.1" fill="#f6a53e"/>
<circle cx="591.8" cy="70.4" r="3.3" fill="#c4125c" stroke="#f6c0d0" stroke-width="0.7"/>
<circle cx="614.5" cy="82.1" r="3.3" fill="#c4125c" stroke="#f6c0d0" stroke-width="0.7"/>
<circle cx="641.3" cy="91.8" r="3.3" fill="#c4125c" stroke="#f6c0d0" stroke-width="0.7"/>
<rect x="653.9" y="41.8" width="12.1" height="83.1" fill="url(#ubar)"/>
<line x1="660" y1="53" x2="660" y2="118.2" stroke="#fff" stroke-width="1"/><polygon points="656.9,54 663.1,54 660,48.6" fill="#fff"/>
<text transform="translate(669.2,38.6) rotate(90)" font-size="10.35">Level of Uncertainty</text>
<circle cx="582.7" cy="159.3" r="4.3" fill="#f6a53e"/><circle cx="582.7" cy="173.3" r="4.3" fill="#c8105a"/>
<text x="593.10" y="163.50" font-size="11.95" text-anchor="start" fill="#000" >Targeted Datum</text>
<text x="593.10" y="177.80" font-size="11.95" text-anchor="start" fill="#000" >Known Datum</text>
<path d="M636.2,183 L636.2,195.3 L332,195.3" fill="none" stroke="#000" stroke-width="2.6"/>
<path d="M325.4,195.3 L338.2,189 L333.6,195.3 L338.2,201.6 Z" fill="#000"/>
<rect x="12.4" y="187.4" width="311.8" height="16.6" rx="4" fill="#3d5b29"/>
<text x="169.50" y="200.40" font-size="12.1" text-anchor="middle" fill="#fff" >Properties of G<tspan font-size="7.8" dy="2.5">1</tspan><tspan dy="-2.5">/G</tspan><tspan font-size="7.8" dy="2.5">2</tspan><tspan dy="-2.5"> Stretchable Nanocomposites</tspan></text>
<circle cx="34.6" cy="224.4" r="15.4" fill="#00aeef" stroke="#000" stroke-width="1.9"/>
<polygon points="39.8,211.9 44.2,214.4 38.2,218.7 40.8,220.4 34.9,224.4 37.2,227.2 23.8,234.1 29.6,227.4 28.7,225.8 32.9,222.4 31.9,219" fill="#ffe000"/>
<text x="55.10" y="229.10" font-size="12" text-anchor="start" fill="#000" >Electrical Conductance</text>
<circle cx="200.5" cy="224.5" r="15.4" fill="#fdd562" stroke="#000" stroke-width="1.9"/>
<g fill="none" stroke-width="1.55" stroke-linecap="round"><ellipse cx="200.4" cy="218.4" rx="7.3" ry="1.9" transform="rotate(9 200.4 218.4)" stroke="#16ade2"/><ellipse cx="200.5" cy="224.6" rx="7.4" ry="1.9" transform="rotate(-10 200.5 224.6)" stroke="#2a84d4"/><ellipse cx="200.4" cy="230.4" rx="7.3" ry="1.9" transform="rotate(11 200.4 230.4)" stroke="#16ade2"/><path d="M193.6,212.9 Q193.2,215.5 194,217" stroke="#2a84d4"/><path d="M194.5,236 L207,232.5" stroke="#2a84d4"/><path d="M207.2,232 L207.9,235.5" stroke="#16ade2"/><path d="M193.3,217.6 Q200,216.5 207.6,220" stroke="#2a84d4"/><path d="M193.3,229 Q200,228 207.6,232" stroke="#2a84d4"/></g>
<text x="221.70" y="228.90" font-size="12" text-anchor="start" fill="#000" >Strain Responses</text>
<rect x="386" y="198.3" width="35.5" height="42.5" fill="#dcdcdc"/>
<rect x="390" y="210" width="28.5" height="25" fill="#f7f8fa"/>
<rect x="386" y="198.3" width="35.5" height="3.5" fill="#c8c8c8"/><rect x="386" y="205" width="35.5" height="4" fill="#c6c6c6"/>
<rect x="400" y="201.8" width="7" height="19" fill="#e4e6e8" stroke="#bbb" stroke-width="0.4"/><line x1="404.2" y1="221" x2="404.2" y2="225.5" stroke="#555" stroke-width="0.8"/>
<rect x="408" y="230" width="10" height="5" fill="#cfd2d4"/><rect x="390" y="234.5" width="28.5" height="3" fill="#b8bcbf"/><rect x="392" y="234.8" width="7" height="2.4" fill="#cfe9f5"/>
<rect x="382.9" y="198.3" width="3.3" height="43" fill="#5c6064"/><rect x="421.6" y="198.3" width="3.3" height="43" fill="#5c6064"/>
<rect x="386" y="238" width="35.5" height="3" fill="#c8c8c8"/>
<text x="489.60" y="217.90" font-size="12.3" text-anchor="middle" fill="#000" >Robot–Human</text>
<text x="491.20" y="232.00" font-size="12.3" text-anchor="middle" fill="#000" >Collaboration</text>
<path d="M566.2,207.5 Q566,199.2 573.5,199.2 Q581,199.2 580.8,207.5 Z" fill="#6b6b6b"/>
<path d="M567.6,211.5 L579.4,211.5 Q579.2,219 573.5,219 Q567.8,219 567.6,211.5 Z" fill="#6b6b6b"/>
<path d="M565.8,206.8 L581.2,206.8 L581.2,210.6 Q580.8,212 578,211.8 L575,211.6 L573.5,209.8 L572,211.6 L569,211.8 Q566.2,212 565.8,210.6 Z" fill="#a9a9a9" stroke="#fff" stroke-width="0.45"/>
<path d="M556.2,238 L556.2,226.5 Q556.5,219.6 564.6,218 L568,218.6 L573.5,222.2 L579,218.6 L582.4,218 Q584.4,219.2 584.4,224.5 L584.4,238 Z" fill="#6b6b6b"/>
<path d="M565.6,218.4 L568.6,225 L566.4,226.8 L573.2,233.8 M581.4,218.4 L578.4,225 L580.6,226.8 L573.8,233.8 M573.5,233.8 L573.5,238.5" stroke="#fff" stroke-width="0.6" fill="none"/>
<path d="M583.5,220.5 L590.5,220.5 L590.5,221.8 L589.6,221.8 L589.6,228 L596.5,240.5 L579.5,240.5 L584.8,228 L584.8,221.8 L583.5,221.8 Z" fill="#fff" stroke="#6b6b6b" stroke-width="0.9"/>
<path d="M583.6,234.5 L592.8,234.5 L595.2,239.3 L581.4,239.3 Z" fill="#aaa"/>
<circle cx="586.5" cy="217.8" r="0.6" fill="#6b6b6b"/><circle cx="589" cy="215.8" r="0.6" fill="#6b6b6b"/><circle cx="589.2" cy="218.6" r="0.5" fill="#6b6b6b"/>
<text x="-1.20" y="266.80" font-size="18.2" text-anchor="start" fill="#000" >b</text>
<circle cx="49" cy="266" r="4.3" fill="#cc79a7"/>
<text x="57.50" y="270.00" font-size="10.3" text-anchor="start" fill="#000" >G<tspan font-size="6.4" dy="2.2">1</tspan><tspan dy="-2.2">–1D</tspan></text>
<circle cx="49" cy="281.9" r="4.3" fill="#0072b2"/>
<text x="57.50" y="285.90" font-size="10.3" text-anchor="start" fill="#000" >G<tspan font-size="6.4" dy="2.2">1</tspan><tspan dy="-2.2">–2D</tspan></text>
<circle cx="164" cy="266" r="4.3" fill="#e69f00"/>
<text x="172.50" y="270.00" font-size="10.3" text-anchor="start" fill="#000" >G<tspan font-size="6.4" dy="2.2">2</tspan><tspan dy="-2.2">–2D1D</tspan></text>
<circle cx="164" cy="281.9" r="4.3" fill="#009e73"/>
<text x="172.50" y="285.90" font-size="10.3" text-anchor="start" fill="#000" >G<tspan font-size="6.4" dy="2.2">2</tspan><tspan dy="-2.2">–2D2D</tspan></text>
<polygon points="46.30,399.60 42.20,320.20 132.70,280.70 132.50,352.50" fill="#f1f1f1"/>
<polygon points="132.50,352.50 132.70,280.70 223.00,320.30 218.50,399.20" fill="#f1f1f1"/>
<polygon points="46.30,399.60 132.50,352.50 218.50,399.20 132.40,450.20" fill="#f4f4f4"/>
<path d="M46.30,399.60 L42.20,320.20 M46.30,399.60 L132.50,352.50 M132.50,352.50 L132.70,280.70 M218.50,399.20 L132.50,352.50 M46.30,399.60 L132.50,352.50 M218.50,399.20 L132.50,352.50 M63.54,390.18 L60.30,312.30 M45.48,383.72 L132.54,338.14 M149.70,361.84 L150.76,288.62 M219.40,383.42 L132.54,338.14 M63.52,409.72 L149.70,361.84 M201.28,409.40 L115.26,361.92 M80.78,380.76 L78.40,304.40 M44.66,367.84 L132.58,323.78 M166.90,371.18 L168.82,296.54 M220.30,367.64 L132.58,323.78 M80.74,419.84 L166.90,371.18 M184.06,419.60 L98.02,371.34 M98.02,371.34 L96.50,296.50 M43.84,351.96 L132.62,309.42 M184.10,380.52 L186.88,304.46 M221.20,351.86 L132.62,309.42 M97.96,429.96 L184.10,380.52 M166.84,429.80 L80.78,380.76 M115.26,361.92 L114.60,288.60 M43.02,336.08 L132.66,295.06 M201.30,389.86 L204.94,312.38 M222.10,336.08 L132.66,295.06 M115.18,440.08 L201.30,389.86 M149.62,440.00 L63.54,390.18 M132.50,352.50 L132.70,280.70 M42.20,320.20 L132.70,280.70 M218.50,399.20 L223.00,320.30 M223.00,320.30 L132.70,280.70 M132.40,450.20 L218.50,399.20 M132.40,450.20 L46.30,399.60" stroke="#d9d9d9" stroke-width="0.7" fill="none"/>
<path d="M42.20,320.20 L46.30,399.60 L132.40,450.20 L218.50,399.20" stroke="#555" stroke-width="0.6" fill="none"/>
<text x="42.50" y="407.20" font-size="10.0" text-anchor="end" fill="#111" >0.0</text>
<text x="41.68" y="391.14" font-size="10.0" text-anchor="end" fill="#111" >0.2</text>
<text x="40.86" y="375.08" font-size="10.0" text-anchor="end" fill="#111" >0.4</text>
<text x="40.04" y="359.02" font-size="10.0" text-anchor="end" fill="#111" >0.6</text>
<text x="39.22" y="342.96" font-size="10.0" text-anchor="end" fill="#111" >0.8</text>
<text x="38.40" y="326.90" font-size="10.0" text-anchor="end" fill="#111" >1.0</text>
<path d="M43.80,400.10 L46.30,399.60 M42.98,384.22 L45.48,383.72 M42.16,368.34 L44.66,367.84 M41.34,352.46 L43.84,351.96 M40.52,336.58 L43.02,336.08 M39.70,320.70 L42.20,320.20" stroke="#333" stroke-width="0.6"/>
<text x="58.50" y="421.50" font-size="10" text-anchor="middle" fill="#111" >0.2</text>
<text x="76.20" y="432.40" font-size="10" text-anchor="middle" fill="#111" >0.4</text>
<text x="93.20" y="443.00" font-size="10" text-anchor="middle" fill="#111" >0.6</text>
<text x="110.60" y="452.60" font-size="10" text-anchor="middle" fill="#111" >0.8</text>
<text x="137.20" y="462.30" font-size="10" text-anchor="middle" fill="#111" >1.0</text>
<text x="222.30" y="412.50" font-size="10" text-anchor="middle" fill="#111" >0.0</text>
<text x="206.90" y="422.80" font-size="10" text-anchor="middle" fill="#111" >0.2</text>
<text x="190.20" y="431.80" font-size="10" text-anchor="middle" fill="#111" >0.4</text>
<text x="172.50" y="442.00" font-size="10" text-anchor="middle" fill="#111" >0.6</text>
<text x="154.90" y="452.60" font-size="10" text-anchor="middle" fill="#111" >0.8</text>
<text transform="translate(17.2,362.5) rotate(-90)" font-size="12" text-anchor="middle">PVA (–)</text>
<text transform="translate(67.5,447) rotate(32)" font-size="12" text-anchor="middle">SWNT (–)</text>
<text transform="translate(199.5,448) rotate(-32)" font-size="12" text-anchor="middle">MXene (–)</text>
<defs><linearGradient id="surf" x1="0" y1="350" x2="0" y2="400" gradientUnits="userSpaceOnUse"><stop offset="0" stop-color="#9bb0c5"/><stop offset="0.6" stop-color="#abbfd3"/><stop offset="1" stop-color="#b9cce0"/></linearGradient></defs>
<path d="M48.30,399.60 C49.83,397.58 55.47,390.00 57.50,387.50 C59.53,385.00 58.75,385.25 60.50,384.60 C62.25,383.95 64.92,383.67 68.00,383.60 C71.08,383.53 75.67,385.30 79.00,384.20 C82.33,383.10 85.00,379.53 88.00,377.00 C91.00,374.47 93.45,371.67 97.00,369.00 C100.55,366.33 104.93,362.83 109.30,361.00 C113.67,359.17 118.57,358.87 123.20,358.00 C127.83,357.13 132.47,356.85 137.10,355.80 C141.73,354.75 147.30,352.57 151.00,351.70 C154.70,350.83 156.80,350.30 159.30,350.60 C161.80,350.90 163.55,351.77 166.00,353.50 C168.45,355.23 171.42,358.67 174.00,361.00 C176.58,363.33 178.50,365.17 181.50,367.50 C184.50,369.83 188.92,372.83 192.00,375.00 C195.08,377.17 197.60,378.87 200.00,380.50 C202.40,382.13 203.48,381.75 206.40,384.80 C209.32,387.85 215.65,396.47 217.50,398.80 Z" fill="url(#surf)" opacity="0.85"/>
<polygon points="48.3,399.6 132.5,376 217.5,398.8" fill="#c6d8e8" opacity="0.55"/>
<rect x="106.06" y="380.86" width="1.5" height="1.5" fill="#cc79a7"/><rect x="142.42" y="389.05" width="1.5" height="1.5" fill="#cc79a7"/><rect x="186.55" y="386.64" width="1.5" height="1.5" fill="#cc79a7"/><rect x="146.59" y="386.77" width="1.5" height="1.5" fill="#009e73"/><rect x="62.18" y="391.33" width="1.5" height="1.5" fill="#0072b2"/><rect x="100.59" y="373.92" width="1.5" height="1.5" fill="#0072b2"/><rect x="140.76" y="375.59" width="1.5" height="1.5" fill="#0072b2"/><rect x="145.64" y="392.32" width="1.5" height="1.5" fill="#cc79a7"/><rect x="144.55" y="388.13" width="1.5" height="1.5" fill="#0072b2"/><rect x="133.68" y="366.37" width="1.5" height="1.5" fill="#009e73"/><rect x="147.94" y="389.42" width="1.5" height="1.5" fill="#009e73"/><rect x="112.10" y="395.14" width="1.5" height="1.5" fill="#0072b2"/><rect x="102.29" y="379.66" width="1.5" height="1.5" fill="#009e73"/><rect x="100.32" y="394.77" width="1.5" height="1.5" fill="#cc79a7"/><rect x="132.48" y="370.76" width="1.5" height="1.5" fill="#e69f00"/><rect x="108.67" y="389.09" width="1.5" height="1.5" fill="#e69f00"/><rect x="149.35" y="378.80" width="1.5" height="1.5" fill="#cc79a7"/><rect x="130.11" y="392.16" width="1.5" height="1.5" fill="#e69f00"/><rect x="157.79" y="390.09" width="1.5" height="1.5" fill="#009e73"/><rect x="99.79" y="376.21" width="1.5" height="1.5" fill="#cc79a7"/><rect x="111.12" y="380.04" width="1.5" height="1.5" fill="#0072b2"/><rect x="177.17" y="382.52" width="1.5" height="1.5" fill="#0072b2"/><rect x="172.39" y="364.88" width="1.5" height="1.5" fill="#009e73"/><rect x="126.12" y="361.69" width="1.5" height="1.5" fill="#009e73"/><rect x="192.49" y="384.48" width="1.5" height="1.5" fill="#e69f00"/><rect x="167.27" y="369.58" width="1.5" height="1.5" fill="#009e73"/><rect x="207.49" y="393.06" width="1.5" height="1.5" fill="#0072b2"/><rect x="187.22" y="389.54" width="1.5" height="1.5" fill="#0072b2"/><rect x="121.28" y="382.65" width="1.5" height="1.5" fill="#e69f00"/><rect x="151.82" y="391.57" width="1.5" height="1.5" fill="#cc79a7"/><rect x="127.31" y="387.25" width="1.5" height="1.5" fill="#009e73"/><rect x="117.94" y="379.92" width="1.5" height="1.5" fill="#009e73"/><rect x="65.03" y="392.66" width="1.5" height="1.5" fill="#e69f00"/><rect x="150.37" y="385.47" width="1.5" height="1.5" fill="#cc79a7"/><rect x="112.43" y="388.85" width="1.5" height="1.5" fill="#cc79a7"/><rect x="65.50" y="390.94" width="1.5" height="1.5" fill="#e69f00"/><rect x="150.61" y="386.94" width="1.5" height="1.5" fill="#009e73"/><rect x="128.81" y="388.08" width="1.5" height="1.5" fill="#cc79a7"/><rect x="174.20" y="394.52" width="1.5" height="1.5" fill="#e69f00"/><rect x="130.83" y="387.95" width="1.5" height="1.5" fill="#0072b2"/><rect x="138.77" y="382.38" width="1.5" height="1.5" fill="#cc79a7"/><rect x="175.55" y="378.31" width="1.5" height="1.5" fill="#e69f00"/><rect x="96.03" y="375.38" width="1.5" height="1.5" fill="#e69f00"/><rect x="199.57" y="387.81" width="1.5" height="1.5" fill="#e69f00"/><rect x="156.08" y="385.75" width="1.5" height="1.5" fill="#0072b2"/><rect x="183.22" y="383.64" width="1.5" height="1.5" fill="#0072b2"/><rect x="133.10" y="389.13" width="1.5" height="1.5" fill="#e69f00"/><rect x="85.23" y="382.92" width="1.5" height="1.5" fill="#e69f00"/><rect x="112.59" y="393.00" width="1.5" height="1.5" fill="#0072b2"/><rect x="108.29" y="383.26" width="1.5" height="1.5" fill="#009e73"/><rect x="154.10" y="368.86" width="1.5" height="1.5" fill="#009e73"/><rect x="109.29" y="375.18" width="1.5" height="1.5" fill="#cc79a7"/><rect x="179.42" y="395.23" width="1.5" height="1.5" fill="#0072b2"/><rect x="123.68" y="375.86" width="1.5" height="1.5" fill="#e69f00"/><rect x="128.36" y="386.23" width="1.5" height="1.5" fill="#cc79a7"/><rect x="170.22" y="390.98" width="1.5" height="1.5" fill="#0072b2"/><rect x="148.78" y="387.48" width="1.5" height="1.5" fill="#009e73"/><rect x="183.29" y="375.93" width="1.5" height="1.5" fill="#009e73"/><rect x="159.41" y="369.96" width="1.5" height="1.5" fill="#e69f00"/><rect x="79.20" y="391.88" width="1.5" height="1.5" fill="#cc79a7"/><rect x="138.50" y="394.19" width="1.5" height="1.5" fill="#0072b2"/><rect x="123.66" y="373.23" width="1.5" height="1.5" fill="#0072b2"/><rect x="106.41" y="395.04" width="1.5" height="1.5" fill="#009e73"/><rect x="197.88" y="384.83" width="1.5" height="1.5" fill="#009e73"/><rect x="186.59" y="388.76" width="1.5" height="1.5" fill="#0072b2"/><rect x="138.01" y="389.01" width="1.5" height="1.5" fill="#cc79a7"/><rect x="193.90" y="391.39" width="1.5" height="1.5" fill="#0072b2"/><rect x="130.01" y="391.88" width="1.5" height="1.5" fill="#e69f00"/><rect x="163.42" y="373.84" width="1.5" height="1.5" fill="#009e73"/><rect x="179.73" y="378.12" width="1.5" height="1.5" fill="#0072b2"/><rect x="151.23" y="390.97" width="1.5" height="1.5" fill="#009e73"/><rect x="135.49" y="382.24" width="1.5" height="1.5" fill="#0072b2"/><rect x="166.12" y="366.27" width="1.5" height="1.5" fill="#e69f00"/><rect x="197.09" y="389.81" width="1.5" height="1.5" fill="#009e73"/><rect x="124.99" y="383.92" width="1.5" height="1.5" fill="#cc79a7"/><rect x="88.28" y="389.70" width="1.5" height="1.5" fill="#e69f00"/><rect x="179.68" y="387.39" width="1.5" height="1.5" fill="#e69f00"/><rect x="77.13" y="389.31" width="1.5" height="1.5" fill="#0072b2"/><rect x="132.21" y="363.18" width="1.5" height="1.5" fill="#0072b2"/><rect x="167.26" y="393.21" width="1.5" height="1.5" fill="#009e73"/><rect x="108.51" y="390.27" width="1.5" height="1.5" fill="#e69f00"/><rect x="142.90" y="392.23" width="1.5" height="1.5" fill="#e69f00"/><rect x="137.04" y="394.06" width="1.5" height="1.5" fill="#e69f00"/><rect x="180.39" y="375.87" width="1.5" height="1.5" fill="#cc79a7"/><rect x="67.70" y="390.18" width="1.5" height="1.5" fill="#0072b2"/><rect x="185.29" y="377.68" width="1.5" height="1.5" fill="#e69f00"/><rect x="119.20" y="375.34" width="1.5" height="1.5" fill="#009e73"/><rect x="166.32" y="390.59" width="1.5" height="1.5" fill="#cc79a7"/><rect x="98.90" y="391.93" width="1.5" height="1.5" fill="#cc79a7"/><rect x="97.28" y="384.95" width="1.5" height="1.5" fill="#cc79a7"/><rect x="155.76" y="392.98" width="1.5" height="1.5" fill="#0072b2"/><rect x="64.91" y="388.51" width="1.5" height="1.5" fill="#cc79a7"/><rect x="126.85" y="383.79" width="1.5" height="1.5" fill="#e69f00"/><rect x="153.72" y="376.97" width="1.5" height="1.5" fill="#cc79a7"/><rect x="138.56" y="394.66" width="1.5" height="1.5" fill="#0072b2"/><rect x="96.15" y="387.09" width="1.5" height="1.5" fill="#0072b2"/><rect x="86.53" y="389.74" width="1.5" height="1.5" fill="#0072b2"/><rect x="100.64" y="381.83" width="1.5" height="1.5" fill="#0072b2"/><rect x="97.53" y="377.10" width="1.5" height="1.5" fill="#cc79a7"/><rect x="171.54" y="384.79" width="1.5" height="1.5" fill="#009e73"/><rect x="93.56" y="391.78" width="1.5" height="1.5" fill="#009e73"/><rect x="133.45" y="378.83" width="1.5" height="1.5" fill="#009e73"/><rect x="90.98" y="384.19" width="1.5" height="1.5" fill="#0072b2"/><rect x="187.42" y="388.76" width="1.5" height="1.5" fill="#009e73"/><rect x="154.32" y="392.79" width="1.5" height="1.5" fill="#e69f00"/><rect x="123.17" y="371.61" width="1.5" height="1.5" fill="#009e73"/><rect x="193.54" y="386.67" width="1.5" height="1.5" fill="#e69f00"/><rect x="150.05" y="393.43" width="1.5" height="1.5" fill="#0072b2"/><rect x="79.46" y="390.41" width="1.5" height="1.5" fill="#009e73"/><rect x="89.11" y="387.70" width="1.5" height="1.5" fill="#0072b2"/><rect x="134.69" y="382.19" width="1.5" height="1.5" fill="#0072b2"/><rect x="93.96" y="394.03" width="1.5" height="1.5" fill="#cc79a7"/><rect x="148.14" y="383.97" width="1.5" height="1.5" fill="#0072b2"/><rect x="197.10" y="387.38" width="1.5" height="1.5" fill="#009e73"/><rect x="176.54" y="391.61" width="1.5" height="1.5" fill="#e69f00"/><rect x="170.11" y="375.74" width="1.5" height="1.5" fill="#0072b2"/><rect x="154.62" y="364.42" width="1.5" height="1.5" fill="#0072b2"/><rect x="199.83" y="394.85" width="1.5" height="1.5" fill="#cc79a7"/><rect x="147.70" y="375.11" width="1.5" height="1.5" fill="#0072b2"/><rect x="126.47" y="392.10" width="1.5" height="1.5" fill="#0072b2"/><rect x="132.54" y="394.21" width="1.5" height="1.5" fill="#cc79a7"/><rect x="130.07" y="390.68" width="1.5" height="1.5" fill="#cc79a7"/><rect x="189.63" y="392.52" width="1.5" height="1.5" fill="#0072b2"/><rect x="172.62" y="366.81" width="1.5" height="1.5" fill="#009e73"/><rect x="133.28" y="380.89" width="1.5" height="1.5" fill="#e69f00"/><rect x="176.97" y="382.19" width="1.5" height="1.5" fill="#0072b2"/><rect x="173.16" y="384.85" width="1.5" height="1.5" fill="#e69f00"/><rect x="153.63" y="382.20" width="1.5" height="1.5" fill="#009e73"/><rect x="97.25" y="380.74" width="1.5" height="1.5" fill="#cc79a7"/><rect x="165.00" y="388.91" width="1.5" height="1.5" fill="#e69f00"/><rect x="128.60" y="382.66" width="1.5" height="1.5" fill="#009e73"/><rect x="177.00" y="373.81" width="1.5" height="1.5" fill="#e69f00"/><rect x="185.43" y="393.18" width="1.5" height="1.5" fill="#009e73"/><rect x="96.14" y="380.09" width="1.5" height="1.5" fill="#e69f00"/><rect x="166.78" y="391.01" width="1.5" height="1.5" fill="#009e73"/><rect x="119.12" y="387.30" width="1.5" height="1.5" fill="#0072b2"/><rect x="120.84" y="389.11" width="1.5" height="1.5" fill="#e69f00"/><rect x="174.37" y="390.68" width="1.5" height="1.5" fill="#0072b2"/><rect x="168.33" y="387.97" width="1.5" height="1.5" fill="#e69f00"/><rect x="94.76" y="379.73" width="1.5" height="1.5" fill="#cc79a7"/><rect x="111.96" y="388.54" width="1.5" height="1.5" fill="#009e73"/><rect x="175.16" y="386.84" width="1.5" height="1.5" fill="#cc79a7"/><rect x="187.80" y="384.31" width="1.5" height="1.5" fill="#e69f00"/><rect x="155.84" y="368.41" width="1.5" height="1.5" fill="#009e73"/><rect x="142.13" y="394.22" width="1.5" height="1.5" fill="#009e73"/><rect x="126.39" y="389.93" width="1.5" height="1.5" fill="#0072b2"/><rect x="157.37" y="394.03" width="1.5" height="1.5" fill="#0072b2"/><rect x="81.57" y="390.00" width="1.5" height="1.5" fill="#009e73"/><rect x="109.24" y="387.01" width="1.5" height="1.5" fill="#e69f00"/><rect x="119.24" y="368.63" width="1.5" height="1.5" fill="#0072b2"/><rect x="102.38" y="379.32" width="1.5" height="1.5" fill="#0072b2"/><rect x="157.16" y="389.25" width="1.5" height="1.5" fill="#cc79a7"/><rect x="89.45" y="384.15" width="1.5" height="1.5" fill="#e69f00"/><rect x="85.04" y="392.37" width="1.5" height="1.5" fill="#cc79a7"/><rect x="113.18" y="390.12" width="1.5" height="1.5" fill="#0072b2"/><rect x="196.21" y="395.21" width="1.5" height="1.5" fill="#009e73"/><rect x="173.58" y="377.71" width="1.5" height="1.5" fill="#0072b2"/><rect x="114.55" y="392.05" width="1.5" height="1.5" fill="#e69f00"/><rect x="146.13" y="390.08" width="1.5" height="1.5" fill="#e69f00"/><rect x="192.31" y="394.74" width="1.5" height="1.5" fill="#0072b2"/>
<text x="232.30" y="266.60" font-size="16" text-anchor="start" fill="#000" font-weight="bold">c</text>
<text x="276.20" y="413.91" font-size="10.0" text-anchor="end" fill="#000" >20</text>
<text x="276.20" y="364.77" font-size="10.0" text-anchor="end" fill="#000" >40</text>
<text x="276.20" y="315.64" font-size="10.0" text-anchor="end" fill="#000" >60</text>
<text x="276.20" y="266.50" font-size="10.0" text-anchor="end" fill="#000" >80</text>
<text x="287.40" y="448.90" font-size="10.0" text-anchor="middle" fill="#000" >10</text>
<text x="309.47" y="448.90" font-size="10.0" text-anchor="middle" fill="#000" >30</text>
<text x="331.54" y="448.90" font-size="10.0" text-anchor="middle" fill="#000" >50</text>
<text x="353.61" y="448.90" font-size="10.0" text-anchor="middle" fill="#000" >70</text>
<text x="375.69" y="448.90" font-size="10.0" text-anchor="middle" fill="#000" >90</text>
<text x="397.76" y="448.90" font-size="10.0" text-anchor="middle" fill="#000" >110</text>
<text x="419.83" y="448.90" font-size="10.0" text-anchor="middle" fill="#000" >130</text>
<text x="441.90" y="448.90" font-size="10.0" text-anchor="middle" fill="#000" >150</text>
<path d="M278.8,410.31 L282.0,410.31 M278.8,361.17 L282.0,361.17 M278.8,312.04 L282.0,312.04 M278.8,262.90 L282.0,262.90 M280.2,385.74 L282.0,385.74 M280.2,336.61 L282.0,336.61 M280.2,287.47 L282.0,287.47 M287.40,435.4 L287.40,438.59999999999997 M309.47,435.4 L309.47,438.59999999999997 M331.54,435.4 L331.54,438.59999999999997 M353.61,435.4 L353.61,438.59999999999997 M375.69,435.4 L375.69,438.59999999999997 M397.76,435.4 L397.76,438.59999999999997 M419.83,435.4 L419.83,438.59999999999997 M441.90,435.4 L441.90,438.59999999999997 M298.44,435.4 L298.44,437.2 M320.51,435.4 L320.51,437.2 M342.58,435.4 L342.58,437.2 M364.65,435.4 L364.65,437.2 M386.72,435.4 L386.72,437.2 M408.79,435.4 L408.79,437.2 M430.86,435.4 L430.86,437.2" stroke="#333" stroke-width="0.8"/>
<text x="361.50" y="464.30" font-size="12.3" text-anchor="middle" fill="#000" >Number of Data (–)</text>
<text transform="translate(255.3,349.1) rotate(-90)" font-size="12.1" text-anchor="middle">MRE (%)</text>
<polyline points="291.81,312.77 316.09,361.17 340.37,366.33 364.87,376.16 390.58,375.18 415.41,377.64 439.25,381.81" fill="none" stroke="#cc79a7" stroke-width="1.3"/>
<polyline points="291.81,371.74 316.09,370.76 340.37,385.74 364.87,389.18 390.58,393.36 415.41,392.87 439.25,397.29" fill="none" stroke="#d55e00" stroke-width="1.3"/>
<polyline points="291.81,376.90 316.09,379.85 340.37,386.73 364.87,398.03 390.58,400.48 415.41,404.42 439.25,402.20" fill="none" stroke="#0072b2" stroke-width="1.3"/>
<polyline points="291.81,379.11 316.09,374.20 340.37,387.46 364.87,393.85 390.58,398.03 415.41,395.57 439.25,403.92" fill="none" stroke="#f0e442" stroke-width="1.3"/>
<polyline points="291.81,384.76 316.09,379.85 340.37,387.46 364.87,405.15 390.58,405.15 415.41,419.65 439.25,426.77" fill="none" stroke="#009e73" stroke-width="1.3"/>
<circle cx="291.81" cy="312.77" r="4.1" fill="url(#bg0)"/>
<circle cx="316.09" cy="361.17" r="4.1" fill="url(#bg0)"/>
<circle cx="340.37" cy="366.33" r="4.1" fill="url(#bg0)"/>
<circle cx="364.87" cy="376.16" r="4.1" fill="url(#bg0)"/>
<circle cx="390.58" cy="375.18" r="4.1" fill="url(#bg0)"/>
<circle cx="415.41" cy="377.64" r="4.1" fill="url(#bg0)"/>
<circle cx="439.25" cy="381.81" r="4.1" fill="url(#bg0)"/>
<circle cx="291.81" cy="371.74" r="4.1" fill="url(#bg1)"/>
<circle cx="316.09" cy="370.76" r="4.1" fill="url(#bg1)"/>
<circle cx="340.37" cy="385.74" r="4.1" fill="url(#bg1)"/>
<circle cx="364.87" cy="389.18" r="4.1" fill="url(#bg1)"/>
<circle cx="390.58" cy="393.36" r="4.1" fill="url(#bg1)"/>
<circle cx="415.41" cy="392.87" r="4.1" fill="url(#bg1)"/>
<circle cx="439.25" cy="397.29" r="4.1" fill="url(#bg1)"/>
<circle cx="291.81" cy="376.90" r="4.1" fill="url(#bg2)"/>
<circle cx="316.09" cy="379.85" r="4.1" fill="url(#bg2)"/>
<circle cx="340.37" cy="386.73" r="4.1" fill="url(#bg2)"/>
<circle cx="364.87" cy="398.03" r="4.1" fill="url(#bg2)"/>
<circle cx="390.58" cy="400.48" r="4.1" fill="url(#bg2)"/>
<circle cx="415.41" cy="404.42" r="4.1" fill="url(#bg2)"/>
<circle cx="439.25" cy="402.20" r="4.1" fill="url(#bg2)"/>
<circle cx="291.81" cy="379.11" r="4.1" fill="url(#bg3)"/>
<circle cx="316.09" cy="374.20" r="4.1" fill="url(#bg3)"/>
<circle cx="340.37" cy="387.46" r="4.1" fill="url(#bg3)"/>
<circle cx="364.87" cy="393.85" r="4.1" fill="url(#bg3)"/>
<circle cx="390.58" cy="398.03" r="4.1" fill="url(#bg3)"/>
<circle cx="415.41" cy="395.57" r="4.1" fill="url(#bg3)"/>
<circle cx="439.25" cy="403.92" r="4.1" fill="url(#bg3)"/>
<circle cx="291.81" cy="384.76" r="4.1" fill="url(#bg4)"/>
<circle cx="316.09" cy="379.85" r="4.1" fill="url(#bg4)"/>
<circle cx="340.37" cy="387.46" r="4.1" fill="url(#bg4)"/>
<circle cx="364.87" cy="405.15" r="4.1" fill="url(#bg4)"/>
<circle cx="390.58" cy="405.15" r="4.1" fill="url(#bg4)"/>
<circle cx="415.41" cy="419.65" r="4.1" fill="url(#bg4)"/>
<circle cx="439.25" cy="426.77" r="4.1" fill="url(#bg4)"/>
<line x1="298.8" y1="270.5" x2="316.9" y2="270.5" stroke="#cc79a7" stroke-width="1.1"/><radialGradient id="bg0" cx="0.42" cy="0.32" r="0.62" fx="0.42" fy="0.32"><stop offset="0" stop-color="#fff"/><stop offset="0.18" stop-color="#fff" stop-opacity="0.8"/><stop offset="0.45" stop-color="#cc79a7"/><stop offset="1" stop-color="#cc79a7"/></radialGradient><circle cx="307.50" cy="270.50" r="4.1" fill="url(#bg0)"/><text x="319.30" y="273.60" font-size="8.75" text-anchor="start" fill="#000" >Linear Regression</text><line x1="298.8" y1="281.0" x2="316.9" y2="281.0" stroke="#d55e00" stroke-width="1.1"/><radialGradient id="bg1" cx="0.42" cy="0.32" r="0.62" fx="0.42" fy="0.32"><stop offset="0" stop-color="#fff"/><stop offset="0.18" stop-color="#fff" stop-opacity="0.8"/><stop offset="0.45" stop-color="#d55e00"/><stop offset="1" stop-color="#d55e00"/></radialGradient><circle cx="307.50" cy="281.00" r="4.1" fill="url(#bg1)"/><text x="319.30" y="284.10" font-size="8.75" text-anchor="start" fill="#000" >Decision Tree</text><line x1="298.8" y1="291.5" x2="316.9" y2="291.5" stroke="#0072b2" stroke-width="1.1"/><radialGradient id="bg2" cx="0.42" cy="0.32" r="0.62" fx="0.42" fy="0.32"><stop offset="0" stop-color="#fff"/><stop offset="0.18" stop-color="#fff" stop-opacity="0.8"/><stop offset="0.45" stop-color="#0072b2"/><stop offset="1" stop-color="#0072b2"/></radialGradient><circle cx="307.50" cy="291.50" r="4.1" fill="url(#bg2)"/><text x="319.30" y="294.60" font-size="8.75" text-anchor="start" fill="#000" >Gradient-Boosted Decision Tree</text><line x1="298.8" y1="302.0" x2="316.9" y2="302.0" stroke="#f0e442" stroke-width="1.1"/><radialGradient id="bg3" cx="0.42" cy="0.32" r="0.62" fx="0.42" fy="0.32"><stop offset="0" stop-color="#fff"/><stop offset="0.18" stop-color="#fff" stop-opacity="0.8"/><stop offset="0.45" stop-color="#f0e442"/><stop offset="1" stop-color="#f0e442"/></radialGradient><circle cx="307.50" cy="302.00" r="4.1" fill="url(#bg3)"/><text x="319.30" y="305.10" font-size="8.75" text-anchor="start" fill="#000" >Random Forest</text><line x1="298.8" y1="312.5" x2="316.9" y2="312.5" stroke="#009e73" stroke-width="1.1"/><radialGradient id="bg4" cx="0.42" cy="0.32" r="0.62" fx="0.42" fy="0.32"><stop offset="0" stop-color="#fff"/><stop offset="0.18" stop-color="#fff" stop-opacity="0.8"/><stop offset="0.45" stop-color="#009e73"/><stop offset="1" stop-color="#009e73"/></radialGradient><circle cx="307.50" cy="312.50" r="4.1" fill="url(#bg4)"/><text x="319.30" y="315.60" font-size="8.75" text-anchor="start" fill="#000" >Artificial Neural Network</text>
<line x1="282.0" y1="262.9" x2="447.5" y2="262.9" stroke="#777" stroke-width="1.2"/>
<line x1="447.5" y1="262.9" x2="447.5" y2="435.4" stroke="#444" stroke-width="1"/>
<line x1="281.5" y1="435.4" x2="448.0" y2="435.4" stroke="#333" stroke-width="1"/>
<line x1="282.0" y1="262.9" x2="282.0" y2="435.4" stroke="#999" stroke-width="1.3"/>
<text x="462.00" y="267.30" font-size="16" text-anchor="start" fill="#000" >d</text>
<text x="508.80" y="438.90" font-size="10.0" text-anchor="end" fill="#000" >10</text>
<text x="508.80" y="381.40" font-size="10.0" text-anchor="end" fill="#000" >20</text>
<text x="508.80" y="323.90" font-size="10.0" text-anchor="end" fill="#000" >30</text>
<text x="508.80" y="266.40" font-size="10.0" text-anchor="end" fill="#000" >40</text>
<text x="519.70" y="448.80" font-size="10.0" text-anchor="middle" fill="#000" >10</text>
<text x="541.86" y="448.80" font-size="10.0" text-anchor="middle" fill="#000" >30</text>
<text x="564.01" y="448.80" font-size="10.0" text-anchor="middle" fill="#000" >50</text>
<text x="586.17" y="448.80" font-size="10.0" text-anchor="middle" fill="#000" >70</text>
<text x="608.33" y="448.80" font-size="10.0" text-anchor="middle" fill="#000" >90</text>
<text x="630.49" y="448.80" font-size="10.0" text-anchor="middle" fill="#000" >110</text>
<text x="652.64" y="448.80" font-size="10.0" text-anchor="middle" fill="#000" >130</text>
<text x="674.80" y="448.80" font-size="10.0" text-anchor="middle" fill="#000" >150</text>
<path d="M511.40000000000003,435.30 L514.6,435.30 M511.40000000000003,377.80 L514.6,377.80 M511.40000000000003,320.30 L514.6,320.30 M511.40000000000003,262.80 L514.6,262.80 M512.8000000000001,406.55 L514.6,406.55 M512.8000000000001,349.05 L514.6,349.05 M512.8000000000001,291.55 L514.6,291.55 M519.70,435.3 L519.70,438.5 M541.86,435.3 L541.86,438.5 M564.01,435.3 L564.01,438.5 M586.17,435.3 L586.17,438.5 M608.33,435.3 L608.33,438.5 M630.49,435.3 L630.49,438.5 M652.64,435.3 L652.64,438.5 M674.80,435.3 L674.80,438.5 M530.78,435.3 L530.78,437.1 M552.94,435.3 L552.94,437.1 M575.09,435.3 L575.09,437.1 M597.25,435.3 L597.25,437.1 M619.41,435.3 L619.41,437.1 M641.56,435.3 L641.56,437.1 M663.72,435.3 L663.72,437.1" stroke="#333" stroke-width="0.8"/>
<text x="593.60" y="464.30" font-size="12.3" text-anchor="middle" fill="#000" >Number of Data (–)</text>
<text transform="translate(487,349.1) rotate(-90)" font-size="12.1" text-anchor="middle">MRE (%)</text>
<polyline points="524.13,299.02 548.50,269.70 572.88,274.88 597.47,290.98 623.28,302.48 648.21,313.98 672.14,318.00" fill="none" stroke="#0072b2" stroke-width="1.3"/>
<polyline points="524.13,299.02 548.50,269.70 572.88,273.15 597.47,297.30 623.28,310.53 648.21,332.95 672.14,344.45" fill="none" stroke="#cc79a7" stroke-width="1.3"/>
<polyline points="524.13,312.82 548.50,286.38 572.88,303.62 597.47,345.03 623.28,342.15 648.21,363.43 672.14,376.65" fill="none" stroke="#d55e00" stroke-width="1.3"/>
<polyline points="524.13,316.28 548.50,304.77 572.88,322.60 597.47,364.57 623.28,364.00 648.21,399.07 672.14,414.60" fill="none" stroke="#009e73" stroke-width="1.3"/>
<circle cx="524.13" cy="299.02" r="4.1" fill="url(#bg2)"/>
<circle cx="548.50" cy="269.70" r="4.1" fill="url(#bg2)"/>
<circle cx="572.88" cy="274.88" r="4.1" fill="url(#bg2)"/>
<circle cx="597.47" cy="290.98" r="4.1" fill="url(#bg2)"/>
<circle cx="623.28" cy="302.48" r="4.1" fill="url(#bg2)"/>
<circle cx="648.21" cy="313.98" r="4.1" fill="url(#bg2)"/>
<circle cx="672.14" cy="318.00" r="4.1" fill="url(#bg2)"/>
<circle cx="524.13" cy="299.02" r="4.1" fill="url(#bg0)"/>
<circle cx="548.50" cy="269.70" r="4.1" fill="url(#bg0)"/>
<circle cx="572.88" cy="273.15" r="4.1" fill="url(#bg0)"/>
<circle cx="597.47" cy="297.30" r="4.1" fill="url(#bg0)"/>
<circle cx="623.28" cy="310.53" r="4.1" fill="url(#bg0)"/>
<circle cx="648.21" cy="332.95" r="4.1" fill="url(#bg0)"/>
<circle cx="672.14" cy="344.45" r="4.1" fill="url(#bg0)"/>
<circle cx="524.13" cy="312.82" r="4.1" fill="url(#bg1)"/>
<circle cx="548.50" cy="286.38" r="4.1" fill="url(#bg1)"/>
<circle cx="572.88" cy="303.62" r="4.1" fill="url(#bg1)"/>
<circle cx="597.47" cy="345.03" r="4.1" fill="url(#bg1)"/>
<circle cx="623.28" cy="342.15" r="4.1" fill="url(#bg1)"/>
<circle cx="648.21" cy="363.43" r="4.1" fill="url(#bg1)"/>
<circle cx="672.14" cy="376.65" r="4.1" fill="url(#bg1)"/>
<circle cx="524.13" cy="316.28" r="4.1" fill="url(#bg4)"/>
<circle cx="548.50" cy="304.77" r="4.1" fill="url(#bg4)"/>
<circle cx="572.88" cy="322.60" r="4.1" fill="url(#bg4)"/>
<circle cx="597.47" cy="364.57" r="4.1" fill="url(#bg4)"/>
<circle cx="623.28" cy="364.00" r="4.1" fill="url(#bg4)"/>
<circle cx="648.21" cy="399.07" r="4.1" fill="url(#bg4)"/>
<circle cx="672.14" cy="414.60" r="4.1" fill="url(#bg4)"/>
<text x="520.30" y="383.50" font-size="8.75" text-anchor="start" fill="#000" >Virtual-to-Real Data Ratio</text><line x1="520.1" y1="391.2" x2="537.8" y2="391.2" stroke="#0072b2" stroke-width="1.1"/><circle cx="528.90" cy="391.20" r="4.1" fill="url(#bg2)"/><text x="540.70" y="394.30" font-size="8.75" text-anchor="start" fill="#000" >0</text><line x1="520.1" y1="401.75" x2="537.8" y2="401.75" stroke="#cc79a7" stroke-width="1.1"/><circle cx="528.90" cy="401.75" r="4.1" fill="url(#bg0)"/><text x="540.70" y="404.85" font-size="8.75" text-anchor="start" fill="#000" >10</text><line x1="520.1" y1="412.3" x2="537.8" y2="412.3" stroke="#d55e00" stroke-width="1.1"/><circle cx="528.90" cy="412.30" r="4.1" fill="url(#bg1)"/><text x="540.70" y="415.40" font-size="8.75" text-anchor="start" fill="#000" >100</text><line x1="520.1" y1="422.84999999999997" x2="537.8" y2="422.84999999999997" stroke="#009e73" stroke-width="1.1"/><circle cx="528.90" cy="422.85" r="4.1" fill="url(#bg4)"/><text x="540.70" y="425.95" font-size="8.75" text-anchor="start" fill="#000" >1000</text>
<line x1="514.6" y1="262.8" x2="679.5" y2="262.8" stroke="#666" stroke-width="1.2"/>
<line x1="679.5" y1="262.8" x2="679.5" y2="435.3" stroke="#444" stroke-width="1"/>
<line x1="514.1" y1="435.3" x2="680.0" y2="435.3" stroke="#333" stroke-width="1"/>
<line x1="514.6" y1="262.8" x2="514.6" y2="435.3" stroke="#333" stroke-width="1.3"/>
<text x="47.80" y="665.90" font-size="10.2" text-anchor="end" fill="#000" >0.00</text>
<text x="47.80" y="636.45" font-size="10.2" text-anchor="end" fill="#000" >0.25</text>
<text x="47.80" y="607.00" font-size="10.2" text-anchor="end" fill="#000" >0.50</text>
<text x="47.80" y="577.55" font-size="10.2" text-anchor="end" fill="#000" >0.75</text>
<text x="47.80" y="548.10" font-size="10.2" text-anchor="end" fill="#000" >1.00</text>
<text x="47.80" y="518.65" font-size="10.2" text-anchor="end" fill="#000" >1.25</text>
<text x="47.80" y="489.20" font-size="10.2" text-anchor="end" fill="#000" >1.50</text>
<text x="53.30" y="675.50" font-size="10.2" text-anchor="middle" fill="#000" >0</text>
<text x="86.64" y="675.50" font-size="10.2" text-anchor="middle" fill="#000" >20</text>
<text x="119.98" y="675.50" font-size="10.2" text-anchor="middle" fill="#000" >40</text>
<text x="153.32" y="675.50" font-size="10.2" text-anchor="middle" fill="#000" >60</text>
<text x="186.66" y="675.50" font-size="10.2" text-anchor="middle" fill="#000" >80</text>
<text x="220.00" y="675.50" font-size="10.2" text-anchor="middle" fill="#000" >100</text>
<path d="M49.8,662.30 L53.3,662.30 M49.8,632.85 L53.3,632.85 M49.8,603.40 L53.3,603.40 M49.8,573.95 L53.3,573.95 M49.8,544.50 L53.3,544.50 M49.8,515.05 L53.3,515.05 M49.8,485.60 L53.3,485.60 M51.3,647.57 L53.3,647.57 M51.3,618.12 L53.3,618.12 M51.3,588.67 L53.3,588.67 M51.3,559.23 L53.3,559.23 M51.3,529.77 L53.3,529.77 M51.3,500.33 L53.3,500.33 M53.30,662.3 L53.30,665.8 M86.64,662.3 L86.64,665.8 M119.98,662.3 L119.98,665.8 M153.32,662.3 L153.32,665.8 M186.66,662.3 L186.66,665.8 M220.00,662.3 L220.00,665.8 M69.97,662.3 L69.97,664.3 M103.31,662.3 L103.31,664.3 M136.65,662.3 L136.65,664.3 M169.99,662.3 L169.99,664.3 M203.33,662.3 L203.33,664.3" stroke="#333" stroke-width="0.8"/>
<text x="0.20" y="490.80" font-size="16.5" text-anchor="start" fill="#000" >e</text>
<text x="134.90" y="692.00" font-size="12.1" text-anchor="middle" fill="#000" >Uniaxial Elongation (%)</text>
<text transform="translate(18.3,585.5) rotate(-90)" font-size="14.6" letter-spacing="-0.4" text-anchor="middle" style="font-family:'Liberation Serif',serif">Δ<tspan font-style="italic">R</tspan>/<tspan font-style="italic">R</tspan><tspan font-size="9" dy="2">0</tspan><tspan dy="-2"> (–)</tspan></text>
<clipPath id="ce"><rect x="53.3" y="561" width="166.7" height="101.3"/></clipPath>
<g clip-path="url(#ce)"><path d="M53.30,662.30 C59.98,662.02 83.00,661.42 93.40,660.60 C103.80,659.78 108.93,659.17 115.70,657.40 C122.47,655.63 128.53,653.45 134.00,650.00 C139.47,646.55 143.23,642.42 148.50,636.70 C153.77,630.98 160.57,622.70 165.60,615.70 C170.63,608.70 174.75,601.27 178.70,594.70 C182.65,588.13 185.92,582.75 189.30,576.30 C192.68,569.85 197.38,559.38 199.00,556.00" fill="none" stroke="#009e73" stroke-width="1.4" stroke-linejoin="round"/><path d="M53.30,662.30 C67.75,662.12 123.25,661.75 140.00,661.20 C156.75,660.65 149.53,661.77 153.80,659.00 C158.07,656.23 161.88,650.07 165.60,644.60 C169.32,639.13 173.03,633.22 176.10,626.20 C179.17,619.18 182.02,610.82 184.00,602.50 C185.98,594.18 186.92,584.05 188.00,576.30 C189.08,568.55 190.08,559.38 190.50,556.00" fill="none" stroke="#cc79a7" stroke-width="1.4" stroke-linejoin="round"/><path d="M53.30,662.30 C69.42,662.17 129.97,662.27 150.00,661.50 C170.03,660.73 168.77,660.62 173.50,657.70 C178.23,654.78 177.43,651.00 178.40,644.00 C179.37,637.00 178.80,626.12 179.30,615.70 C179.80,605.28 180.28,591.45 181.40,581.50 C182.52,571.55 185.23,560.25 186.00,556.00" fill="none" stroke="#d55e00" stroke-width="1.4" stroke-linejoin="round"/><polyline points="53.30,662.30 170.00,660.50 189.30,656.40 207.60,643.30 209.00,602.50 210.50,556.00" fill="none" stroke="#0072b2" stroke-width="1.4" stroke-linejoin="round"/></g>
<rect x="113.25" y="651.25" width="7.5" height="7.5" fill="none" stroke="#009e73" stroke-width="1.6"/>
<rect x="120.65" y="648.75" width="7.5" height="7.5" fill="none" stroke="#009e73" stroke-width="1.6"/>
<rect x="125.05" y="646.65" width="7.5" height="7.5" fill="none" stroke="#009e73" stroke-width="1.6"/>
<rect x="152.65" y="651.25" width="7.5" height="7.5" fill="none" stroke="#cc79a7" stroke-width="1.6"/>
<rect x="156.65" y="648.75" width="7.5" height="7.5" fill="none" stroke="#cc79a7" stroke-width="1.6"/>
<rect x="159.75" y="646.05" width="7.5" height="7.5" fill="none" stroke="#cc79a7" stroke-width="1.6"/>
<polygon points="176.10,650.20 181.13,658.95 171.06,658.95" fill="none" stroke="#d55e00" stroke-width="1.9" stroke-linejoin="miter"/>
<polygon points="178.20,647.20 183.23,655.95 173.16,655.95" fill="none" stroke="#d55e00" stroke-width="1.9" stroke-linejoin="miter"/>
<polygon points="181.40,643.50 186.44,652.25 176.37,652.25" fill="none" stroke="#d55e00" stroke-width="1.9" stroke-linejoin="miter"/>
<polygon points="194.00,650.20 199.03,658.95 188.97,658.95" fill="none" stroke="#0072b2" stroke-width="1.9" stroke-linejoin="miter"/>
<polygon points="198.40,646.50 203.44,655.25 193.37,655.25" fill="none" stroke="#0072b2" stroke-width="1.9" stroke-linejoin="miter"/>
<polygon points="202.90,643.70 207.94,652.45 197.87,652.45" fill="none" stroke="#0072b2" stroke-width="1.9" stroke-linejoin="miter"/>
<rect x="53.3" y="485.6" width="166.7" height="176.69999999999993" fill="none" stroke="#333" stroke-width="1"/>
<line x1="53.3" y1="561.5" x2="220" y2="561.5" stroke="#222" stroke-width="1"/>
<text x="57.00" y="493.40" font-size="8.8" text-anchor="start" fill="#000" >Experimental Results</text>
<text x="148.00" y="493.40" font-size="8.8" text-anchor="start" fill="#000" >Model Predictions</text>
<line x1="54.7" y1="511.8" x2="72.2" y2="511.8" stroke="#d55e00" stroke-width="1.2"/>
<text x="75.00" y="514.90" font-size="8.8" text-anchor="start" fill="#000" >G<tspan font-size="5.6" dy="1.9">1</tspan><tspan dy="-1.9">–1D (Recipe #1)</tspan></text>
<polygon points="185.30,507.70 189.96,515.78 180.65,515.78" fill="none" stroke="#d55e00" stroke-width="1.5" stroke-linejoin="miter"/>
<line x1="54.7" y1="525.1" x2="72.2" y2="525.1" stroke="#0072b2" stroke-width="1.2"/>
<text x="75.00" y="528.20" font-size="8.8" text-anchor="start" fill="#000" >G<tspan font-size="5.6" dy="1.9">1</tspan><tspan dy="-1.9">–1D (Recipe #2)</tspan></text>
<polygon points="185.30,521.00 189.96,529.08 180.65,529.08" fill="none" stroke="#0072b2" stroke-width="1.5" stroke-linejoin="miter"/>
<line x1="54.7" y1="538.4" x2="72.2" y2="538.4" stroke="#009e73" stroke-width="1.2"/>
<text x="75.00" y="541.50" font-size="8.8" text-anchor="start" fill="#000" >G<tspan font-size="5.6" dy="1.9">1</tspan><tspan dy="-1.9">–2D (Recipe #3)</tspan></text>
<rect x="181.70" y="535.30" width="6.6" height="6.6" fill="none" stroke="#009e73" stroke-width="1.6"/>
<line x1="54.7" y1="551.6" x2="72.2" y2="551.6" stroke="#cc79a7" stroke-width="1.2"/>
<text x="75.00" y="554.70" font-size="8.8" text-anchor="start" fill="#000" >G<tspan font-size="5.6" dy="1.9">1</tspan><tspan dy="-1.9">–2D (Recipe #4)</tspan></text>
<rect x="181.70" y="548.50" width="6.6" height="6.6" fill="none" stroke="#cc79a7" stroke-width="1.6"/>
<text x="275.40" y="665.90" font-size="10.2" text-anchor="end" fill="#000" >0.00</text>
<text x="275.40" y="636.45" font-size="10.2" text-anchor="end" fill="#000" >0.25</text>
<text x="275.40" y="607.00" font-size="10.2" text-anchor="end" fill="#000" >0.50</text>
<text x="275.40" y="577.55" font-size="10.2" text-anchor="end" fill="#000" >0.75</text>
<text x="275.40" y="548.10" font-size="10.2" text-anchor="end" fill="#000" >1.00</text>
<text x="275.40" y="518.65" font-size="10.2" text-anchor="end" fill="#000" >1.25</text>
<text x="275.40" y="489.20" font-size="10.2" text-anchor="end" fill="#000" >1.50</text>
<text x="280.90" y="675.50" font-size="10.2" text-anchor="middle" fill="#000" >0</text>
<text x="332.81" y="675.50" font-size="10.2" text-anchor="middle" fill="#000" >200</text>
<text x="384.73" y="675.50" font-size="10.2" text-anchor="middle" fill="#000" >400</text>
<text x="436.64" y="675.50" font-size="10.2" text-anchor="middle" fill="#000" >600</text>
<path d="M277.4,662.30 L280.9,662.30 M277.4,632.85 L280.9,632.85 M277.4,603.40 L280.9,603.40 M277.4,573.95 L280.9,573.95 M277.4,544.50 L280.9,544.50 M277.4,515.05 L280.9,515.05 M277.4,485.60 L280.9,485.60 M278.9,647.57 L280.9,647.57 M278.9,618.12 L280.9,618.12 M278.9,588.67 L280.9,588.67 M278.9,559.23 L280.9,559.23 M278.9,529.77 L280.9,529.77 M278.9,500.33 L280.9,500.33 M280.90,662.3 L280.90,665.8 M332.81,662.3 L332.81,665.8 M384.73,662.3 L384.73,665.8 M436.64,662.3 L436.64,665.8 M306.86,662.3 L306.86,664.3 M358.77,662.3 L358.77,664.3 M410.68,662.3 L410.68,664.3" stroke="#333" stroke-width="0.8"/>
<text x="235.30" y="490.80" font-size="16.5" text-anchor="start" fill="#000" >f</text>
<text x="363.40" y="692.00" font-size="12.1" text-anchor="middle" fill="#000" >Uniaxial Elongation (%)</text>
<text transform="translate(248.3,585.5) rotate(-90)" font-size="14.6" letter-spacing="-0.4" text-anchor="middle" style="font-family:'Liberation Serif',serif">Δ<tspan font-style="italic">R</tspan>/<tspan font-style="italic">R</tspan><tspan font-size="9" dy="2">0</tspan><tspan dy="-2"> (–)</tspan></text>
<clipPath id="cf"><rect x="280.9" y="559.2" width="168.2" height="103.1"/></clipPath>
<g clip-path="url(#cf)"><path d="M280.90,662.30 C281.67,661.88 282.10,660.43 285.50,659.80 C288.90,659.17 295.60,659.07 301.30,658.50 C307.00,657.93 314.02,657.62 319.70,656.40 C325.38,655.18 331.02,654.48 335.40,651.20 C339.78,647.92 342.93,643.05 346.00,636.70 C349.07,630.35 351.70,621.85 353.80,613.10 C355.90,604.35 357.13,593.72 358.60,584.20 C360.07,574.68 361.93,560.70 362.60,556.00" fill="none" stroke="#d55e00" stroke-width="1.4" stroke-linejoin="round"/><path d="M280.90,662.30 C281.67,661.92 273.35,660.55 285.50,660.00 C297.65,659.45 340.22,659.82 353.80,659.00 C367.38,658.18 363.50,658.82 367.00,655.10 C370.50,651.38 371.97,644.15 374.80,636.70 C377.63,629.25 381.37,618.28 384.00,610.40 C386.63,602.52 388.10,598.47 390.60,589.40 C393.10,580.33 397.60,561.57 399.00,556.00" fill="none" stroke="#0072b2" stroke-width="1.4" stroke-linejoin="round"/><path d="M280.90,662.30 C281.67,661.98 268.98,661.17 285.50,660.40 C302.02,659.63 362.05,658.58 380.00,657.70 C397.95,656.82 389.25,656.85 393.20,655.10 C397.15,653.35 400.63,652.02 403.70,647.20 C406.77,642.38 409.18,635.83 411.60,626.20 C414.02,616.57 416.27,601.10 418.20,589.40 C420.13,577.70 422.37,561.57 423.20,556.00" fill="none" stroke="#009e73" stroke-width="1.4" stroke-linejoin="round"/></g>
<polygon points="322.30,651.00 323.82,654.30 327.44,654.73 324.77,657.20 325.47,660.77 322.30,658.99 319.13,660.77 319.83,657.20 317.16,654.73 320.78,654.30" fill="none" stroke="#d55e00" stroke-width="1.9" stroke-linejoin="miter"/>
<polygon points="327.50,648.40 329.02,651.70 332.64,652.13 329.97,654.60 330.67,658.17 327.50,656.39 324.33,658.17 325.03,654.60 322.36,652.13 325.98,651.70" fill="none" stroke="#d55e00" stroke-width="1.9" stroke-linejoin="miter"/>
<polygon points="332.30,645.00 333.82,648.30 337.44,648.73 334.77,651.20 335.47,654.77 332.30,652.99 329.13,654.77 329.83,651.20 327.16,648.73 330.78,648.30" fill="none" stroke="#d55e00" stroke-width="1.9" stroke-linejoin="miter"/>
<polygon points="364.90,651.00 366.42,654.30 370.04,654.73 367.37,657.20 368.07,660.77 364.90,658.99 361.73,660.77 362.43,657.20 359.76,654.73 363.38,654.30" fill="none" stroke="#0072b2" stroke-width="1.9" stroke-linejoin="miter"/>
<polygon points="367.50,647.60 369.02,650.90 372.64,651.33 369.97,653.80 370.67,657.37 367.50,655.59 364.33,657.37 365.03,653.80 362.36,651.33 365.98,650.90" fill="none" stroke="#0072b2" stroke-width="1.9" stroke-linejoin="miter"/>
<polygon points="372.20,645.00 373.72,648.30 377.34,648.73 374.67,651.20 375.37,654.77 372.20,652.99 369.03,654.77 369.73,651.20 367.06,648.73 370.68,648.30" fill="none" stroke="#0072b2" stroke-width="1.9" stroke-linejoin="miter"/>
<polygon points="386.70,651.00 388.22,654.30 391.84,654.73 389.17,657.20 389.87,660.77 386.70,658.99 383.53,660.77 384.23,657.20 381.56,654.73 385.18,654.30" fill="none" stroke="#009e73" stroke-width="1.9" stroke-linejoin="miter"/>
<polygon points="393.20,647.60 394.72,650.90 398.34,651.33 395.67,653.80 396.37,657.37 393.20,655.59 390.03,657.37 390.73,653.80 388.06,651.33 391.68,650.90" fill="none" stroke="#009e73" stroke-width="1.9" stroke-linejoin="miter"/>
<polygon points="401.10,644.40 402.62,647.70 406.24,648.13 403.57,650.60 404.27,654.17 401.10,652.39 397.93,654.17 398.63,650.60 395.96,648.13 399.58,647.70" fill="none" stroke="#009e73" stroke-width="1.9" stroke-linejoin="miter"/>
<rect x="280.9" y="485.6" width="168.20000000000005" height="176.69999999999993" fill="none" stroke="#333" stroke-width="1"/>
<line x1="280.9" y1="559.5" x2="449.1" y2="559.5" stroke="#222" stroke-width="1"/>
<text x="361.00" y="494.40" font-size="8.8" text-anchor="middle" fill="#000" >Applied Pre-Strains for G<tspan font-size="5.6" dy="1.9">2</tspan><tspan dy="-1.9">–2D1D</tspan></text>
<text x="285.50" y="517.70" font-size="8.8" text-anchor="start" fill="#000" >Experimental Results</text>
<text x="376.80" y="517.70" font-size="8.8" text-anchor="start" fill="#000" >Model Predictions</text>
<line x1="283" y1="525.9" x2="301.1" y2="525.9" stroke="#d55e00" stroke-width="1.2"/>
<text x="304.10" y="528.90" font-size="8.8" text-anchor="start" fill="#000" >100% (Recipe #5)</text>
<polygon points="413.40,521.30 414.75,524.24 417.97,524.62 415.59,526.81 416.22,529.98 413.40,528.40 410.58,529.98 411.21,526.81 408.83,524.62 412.05,524.24" fill="none" stroke="#d55e00" stroke-width="1.5" stroke-linejoin="miter"/>
<line x1="283" y1="536.4499999999999" x2="301.1" y2="536.4499999999999" stroke="#0072b2" stroke-width="1.2"/>
<text x="304.10" y="539.45" font-size="8.8" text-anchor="start" fill="#000" >200% (Recipe #6)</text>
<polygon points="413.40,531.85 414.75,534.79 417.97,535.17 415.59,537.36 416.22,540.53 413.40,538.95 410.58,540.53 411.21,537.36 408.83,535.17 412.05,534.79" fill="none" stroke="#0072b2" stroke-width="1.5" stroke-linejoin="miter"/>
<line x1="283" y1="547.0" x2="301.1" y2="547.0" stroke="#009e73" stroke-width="1.2"/>
<text x="304.10" y="550.00" font-size="8.8" text-anchor="start" fill="#000" >300% (Recipe #7)</text>
<polygon points="413.40,542.40 414.75,545.34 417.97,545.72 415.59,547.91 416.22,551.08 413.40,549.50 410.58,551.08 411.21,547.91 408.83,545.72 412.05,545.34" fill="none" stroke="#009e73" stroke-width="1.5" stroke-linejoin="miter"/>
<text x="503.60" y="665.90" font-size="10.2" text-anchor="end" fill="#000" >0.00</text>
<text x="503.60" y="636.45" font-size="10.2" text-anchor="end" fill="#000" >0.25</text>
<text x="503.60" y="607.00" font-size="10.2" text-anchor="end" fill="#000" >0.50</text>
<text x="503.60" y="577.55" font-size="10.2" text-anchor="end" fill="#000" >0.75</text>
<text x="503.60" y="548.10" font-size="10.2" text-anchor="end" fill="#000" >1.00</text>
<text x="503.60" y="518.65" font-size="10.2" text-anchor="end" fill="#000" >1.25</text>
<text x="503.60" y="489.20" font-size="10.2" text-anchor="end" fill="#000" >1.50</text>
<text x="509.10" y="675.50" font-size="10.2" text-anchor="middle" fill="#000" >0</text>
<text x="559.25" y="675.50" font-size="10.2" text-anchor="middle" fill="#000" >200</text>
<text x="609.40" y="675.50" font-size="10.2" text-anchor="middle" fill="#000" >400</text>
<text x="659.54" y="675.50" font-size="10.2" text-anchor="middle" fill="#000" >600</text>
<path d="M505.6,662.30 L509.1,662.30 M505.6,632.85 L509.1,632.85 M505.6,603.40 L509.1,603.40 M505.6,573.95 L509.1,573.95 M505.6,544.50 L509.1,544.50 M505.6,515.05 L509.1,515.05 M505.6,485.60 L509.1,485.60 M507.1,647.57 L509.1,647.57 M507.1,618.12 L509.1,618.12 M507.1,588.67 L509.1,588.67 M507.1,559.23 L509.1,559.23 M507.1,529.77 L509.1,529.77 M507.1,500.33 L509.1,500.33 M509.10,662.3 L509.10,665.8 M559.25,662.3 L559.25,665.8 M609.40,662.3 L609.40,665.8 M659.54,662.3 L659.54,665.8 M534.17,662.3 L534.17,664.3 M584.32,662.3 L584.32,664.3 M634.47,662.3 L634.47,664.3" stroke="#333" stroke-width="0.8"/>
<text x="463.40" y="490.80" font-size="16.5" text-anchor="start" fill="#000" >g</text>
<text x="595.30" y="692.00" font-size="12.1" text-anchor="middle" fill="#000" >Uniaxial Elongation (%)</text>
<text transform="translate(478.3,585.5) rotate(-90)" font-size="14.6" letter-spacing="-0.4" text-anchor="middle" style="font-family:'Liberation Serif',serif">Δ<tspan font-style="italic">R</tspan>/<tspan font-style="italic">R</tspan><tspan font-size="9" dy="2">0</tspan><tspan dy="-2"> (–)</tspan></text>
<clipPath id="cg"><rect x="509.1" y="559" width="169.5" height="103.3"/></clipPath>
<g clip-path="url(#cg)"><polyline points="509.10,662.30 568.00,659.00 578.60,651.20 583.80,634.10 589.10,610.40 592.20,589.40 596.00,556.00" fill="none" stroke="#d55e00" stroke-width="1.4" stroke-linejoin="round"/><polyline points="509.10,662.30 602.20,659.00 608.80,653.80 612.70,618.30 614.00,597.30 615.50,556.00" fill="none" stroke="#0072b2" stroke-width="1.4" stroke-linejoin="round"/><polyline points="509.10,662.30 615.40,659.00 628.50,655.10 641.60,653.80 646.90,647.20 650.80,634.10 656.10,623.60 664.00,609.10 674.00,556.00" fill="none" stroke="#009e73" stroke-width="1.4" stroke-linejoin="round"/></g>
<circle cx="570.70" cy="656.40" r="4.5" fill="none" stroke="#d55e00" stroke-width="1.8"/>
<circle cx="574.60" cy="653.30" r="4.5" fill="none" stroke="#d55e00" stroke-width="1.8"/>
<circle cx="578.60" cy="650.40" r="4.5" fill="none" stroke="#d55e00" stroke-width="1.8"/>
<circle cx="602.20" cy="656.40" r="4.5" fill="none" stroke="#0072b2" stroke-width="1.8"/>
<circle cx="604.30" cy="653.30" r="4.5" fill="none" stroke="#0072b2" stroke-width="1.8"/>
<circle cx="607.00" cy="650.40" r="4.5" fill="none" stroke="#0072b2" stroke-width="1.8"/>
<circle cx="633.20" cy="656.40" r="4.5" fill="none" stroke="#009e73" stroke-width="1.8"/>
<circle cx="642.20" cy="653.30" r="4.5" fill="none" stroke="#009e73" stroke-width="1.8"/>
<circle cx="646.40" cy="650.40" r="4.5" fill="none" stroke="#009e73" stroke-width="1.8"/>
<rect x="509.1" y="485.6" width="169.5" height="176.69999999999993" fill="none" stroke="#333" stroke-width="1"/>
<line x1="509.1" y1="559.5" x2="678.6" y2="559.5" stroke="#222" stroke-width="1"/>
<text x="592.70" y="495.80" font-size="8.8" text-anchor="middle" fill="#000" >Applied Pre-Strains for G<tspan font-size="5.6" dy="1.9">2</tspan><tspan dy="-1.9">–2D2D</tspan></text>
<text x="515.00" y="518.90" font-size="8.8" text-anchor="start" fill="#000" >Experimental Results</text>
<text x="606.20" y="518.90" font-size="8.8" text-anchor="start" fill="#000" >Model Predictions</text>
<line x1="511.6" y1="527.3" x2="530" y2="527.3" stroke="#d55e00" stroke-width="1.2"/>
<text x="532.60" y="530.30" font-size="8.8" text-anchor="start" fill="#000" >100% (Recipe #8)</text>
<circle cx="642.20" cy="527.30" r="3.9" fill="none" stroke="#d55e00" stroke-width="1.6"/>
<line x1="511.6" y1="538.05" x2="530" y2="538.05" stroke="#0072b2" stroke-width="1.2"/>
<text x="532.60" y="541.05" font-size="8.8" text-anchor="start" fill="#000" >200% (Recipe #9)</text>
<circle cx="642.20" cy="538.05" r="3.9" fill="none" stroke="#0072b2" stroke-width="1.6"/>
<line x1="511.6" y1="548.8" x2="530" y2="548.8" stroke="#009e73" stroke-width="1.2"/>
<text x="532.60" y="551.80" font-size="8.8" text-anchor="start" fill="#000" >300% (Recipe #10)</text>
<circle cx="642.20" cy="548.80" r="3.9" fill="none" stroke="#009e73" stroke-width="1.6"/>
</svg></body></html>
